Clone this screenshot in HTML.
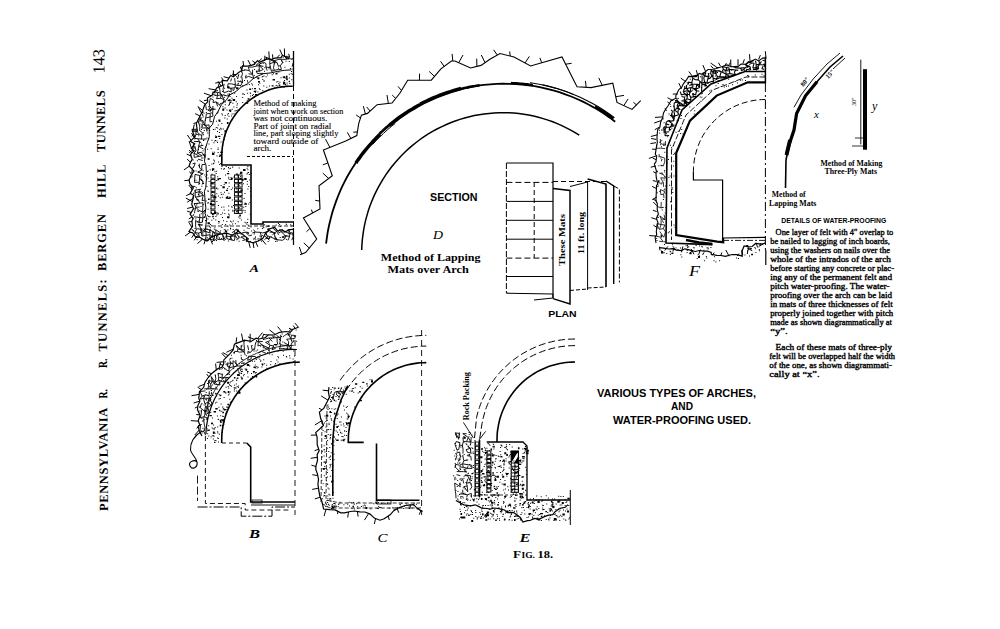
<!DOCTYPE html>
<html><head><meta charset="utf-8"><style>
html,body{margin:0;padding:0;background:#fff;}
svg{display:block;}
</style></head><body>
<svg width="1000" height="629" viewBox="0 0 1000 629">
<rect width="1000" height="629" fill="#fff"/>
<text x="108.1" y="511.0" font-family="Liberation Serif" font-size="12.5" font-weight="bold" font-style="normal" text-anchor="start" textLength="103.4" lengthAdjust="spacing" transform="rotate(-90.45 108.1 511.0)" >PENNSYLVANIA</text>
<text x="107.2" y="398.5" font-family="Liberation Serif" font-size="12.5" font-weight="bold" font-style="normal" text-anchor="start" textLength="9.5" lengthAdjust="spacingAndGlyphs" transform="rotate(-90.45 107.2 398.5)" >R.</text>
<text x="107.0" y="368.0" font-family="Liberation Serif" font-size="12.5" font-weight="bold" font-style="normal" text-anchor="start" textLength="9.4" lengthAdjust="spacingAndGlyphs" transform="rotate(-90.45 107.0 368.0)" >R.</text>
<text x="106.9" y="351.5" font-family="Liberation Serif" font-size="12.5" font-weight="bold" font-style="normal" text-anchor="start" textLength="72.2" lengthAdjust="spacing" transform="rotate(-90.45 106.9 351.5)" >TUNNELS:</text>
<text x="106.2" y="271.0" font-family="Liberation Serif" font-size="12.5" font-weight="bold" font-style="normal" text-anchor="start" textLength="57" lengthAdjust="spacing" transform="rotate(-90.45 106.2 271.0)" >BERGEN</text>
<text x="105.7" y="198.0" font-family="Liberation Serif" font-size="12.5" font-weight="bold" font-style="normal" text-anchor="start" textLength="33.4" lengthAdjust="spacing" transform="rotate(-90.45 105.7 198.0)" >HILL</text>
<text x="105.3" y="152.0" font-family="Liberation Serif" font-size="12.5" font-weight="bold" font-style="normal" text-anchor="start" textLength="61.6" lengthAdjust="spacing" transform="rotate(-90.45 105.3 152.0)" >TUNNELS</text>
<text x="104.6" y="73.5" font-family="Liberation Serif" font-size="17" font-weight="normal" font-style="normal" text-anchor="start" textLength="24.5" lengthAdjust="spacingAndGlyphs" transform="rotate(-90.45 104.6 73.5)" >143</text>
<path d="M221.8 151.4h1v1h-1zM275.7 84.9h1v1h-1zM213.5 198.7h1v1h-1zM209.2 226.2h1v1h-1zM222.3 108.4h2v2h-2zM244.5 203.9h1v1h-1zM230.1 228.6h1v1h-1zM233.4 106.4h1v1h-1zM211.7 191.8h1v1h-1zM212.0 170.1h1v1h-1zM234.9 223.3h1v1h-1zM222.4 186.3h2.4v2h-2.4zM215.8 136.8h1v1h-1zM229.4 224.4h1v1h-1zM232.4 210.7h1v1h-1zM240.4 205.8h1v1h-1zM214.4 227.3h1v1h-1zM228.4 192.8h1v1h-1zM213.5 162.6h1v1h-1zM245.6 222.5h1v1h-1zM227.6 100.1h1v1h-1zM231.5 97.8h1v1h-1zM221.1 128.6h1v1h-1zM217.1 127.5h1v1h-1zM207.1 214.7h1v1h-1zM290.7 73.3h1v1h-1zM248.2 186.1h1v1h-1zM259.4 82.7h1v1h-1zM244.5 203.3h2.4v1.4h-2.4zM207.5 222.2h2.4v2h-2.4zM232.1 177.8h1v1h-1zM220.5 214.0h1v1h-1zM244.6 211.8h1v1h-1zM243.6 198.1h1v1h-1zM217.6 148.9h1v1h-1zM220.5 141.6h1v1h-1zM224.4 135.8h1v1h-1zM279.8 226.1h1v1h-1zM282.7 76.5h1v1h-1zM275.5 73.0h2v1.4h-2zM207.7 201.9h1v1h-1zM247.6 98.3h2v1.4h-2zM221.4 113.2h1v1h-1zM240.3 195.9h1v1h-1zM213.2 218.3h1v1h-1zM217.0 142.1h1v1h-1zM246.5 173.5h1v1h-1zM224.4 213.1h1v1h-1zM208.0 198.6h1.6v1.4h-1.6zM244.5 209.9h1v1h-1zM220.0 151.7h1v1h-1zM228.2 176.7h1v1h-1zM209.4 215.9h1v1h-1zM215.1 136.7h2v1.4h-2zM267.6 225.4h1.6v1.4h-1.6zM207.6 170.6h1v1h-1zM224.8 104.3h1v1h-1zM257.4 91.6h1v1h-1zM221.5 165.9h1v1h-1zM222.7 193.7h1v1h-1zM214.1 211.3h1.6v2h-1.6zM214.0 160.6h1v1h-1zM235.9 228.8h1v1h-1zM207.7 191.1h1v1h-1zM230.6 177.0h1v1h-1zM217.4 178.2h1.6v2h-1.6zM236.9 103.3h1v1h-1zM261.6 76.4h1v1h-1zM238.3 216.6h1v1h-1zM213.9 196.0h1v1h-1zM213.0 203.8h1v1h-1zM215.8 188.1h1v1h-1zM221.9 196.8h1v1h-1zM214.4 211.2h1v1h-1zM285.4 77.8h1v1h-1zM224.6 134.5h1v1h-1zM212.3 151.8h1v1h-1zM250.2 191.0h1v1h-1zM214.3 140.6h1v1h-1zM271.7 74.2h1v1h-1zM241.7 178.8h2v2h-2zM209.9 227.2h1v1h-1zM212.0 214.0h1v1h-1zM247.8 224.7h1v1h-1zM258.9 88.2h1v1h-1zM245.8 102.3h2.4v1.4h-2.4zM216.5 140.4h1v1h-1zM215.6 211.9h1v1h-1zM229.5 178.9h1v1h-1zM227.5 225.8h1v1h-1zM283.3 76.2h2v2h-2zM243.1 169.1h2.4v2h-2.4zM235.9 188.4h1v1h-1zM263.3 227.3h1v1h-1zM283.0 82.4h2.4v2h-2.4zM278.4 71.4h1v1h-1zM225.1 223.9h1v1h-1zM251.2 83.3h1v1h-1zM207.6 177.6h1v1h-1zM219.2 164.0h1v1h-1zM213.4 142.2h1v1h-1zM263.3 85.4h1v1h-1zM242.9 183.2h1v1h-1zM217.6 147.6h1v1h-1zM211.9 168.3h2.4v2h-2.4zM242.7 93.2h1v1h-1zM291.3 79.3h1v1h-1zM215.7 173.0h1v1h-1zM286.0 75.7h1.6v2h-1.6zM224.7 107.4h1v1h-1zM221.9 114.6h1v1h-1zM219.4 121.1h1v1h-1zM261.9 227.9h1v1h-1zM252.8 93.9h1v1h-1zM205.6 200.6h1v1h-1zM278.3 83.0h1v1h-1zM268.9 85.4h1v1h-1zM247.0 221.9h1v1h-1zM286.6 84.4h1v1h-1zM252.0 95.0h1v1h-1zM246.8 183.7h1v1h-1zM266.3 86.7h1v1h-1zM246.4 223.7h1v1h-1zM238.9 182.9h1v1h-1zM206.4 227.7h1v1h-1zM223.8 167.9h1v1h-1zM240.2 176.0h1v1h-1zM223.2 186.3h1v1h-1zM278.7 84.6h1.6v1.4h-1.6zM221.4 133.9h1v1h-1zM258.0 84.2h1v1h-1zM250.8 172.9h1v1h-1zM267.4 226.1h1v1h-1zM235.8 173.4h2v1.4h-2zM250.6 195.4h1v1h-1zM249.8 92.5h1v1h-1zM223.0 220.2h1v1h-1zM246.5 89.6h1v1h-1zM217.5 213.7h1v1h-1zM228.9 214.6h1v1h-1zM216.4 201.1h1v1h-1zM221.4 226.9h1v1h-1zM276.6 72.5h1v1h-1zM246.9 92.7h1v1h-1zM262.3 75.9h1v1h-1zM218.3 222.5h1v1h-1zM248.5 228.1h1v1h-1zM210.3 185.3h1v1h-1zM258.0 81.0h2v1.4h-2zM210.1 180.5h1v1h-1zM226.7 118.6h1v1h-1zM286.1 223.7h1v1h-1zM285.5 85.6h1v1h-1zM216.5 155.4h1v1h-1zM211.0 212.3h1v1h-1zM257.3 77.2h2v2h-2zM234.2 92.7h1v1h-1zM223.4 206.6h1v1h-1zM206.9 171.0h1v1h-1zM226.4 221.0h1v1h-1zM277.9 222.9h1v1h-1zM242.7 209.7h1v1h-1zM242.2 96.9h1v1h-1zM216.2 179.9h1v1h-1zM231.6 113.4h1v1h-1zM251.9 88.3h1v1h-1zM217.2 176.2h1v1h-1zM212.2 215.8h1.6v1.4h-1.6zM227.7 197.7h2v1.4h-2zM227.3 114.3h1v1h-1zM222.0 212.6h1v1h-1zM208.5 143.4h1v1h-1zM239.5 217.7h1v1h-1zM221.4 158.4h1v1h-1zM237.3 174.6h1v1h-1zM220.9 193.9h1v1h-1zM244.5 192.9h1v1h-1zM208.6 164.9h1v1h-1zM207.1 148.8h1v1h-1zM276.2 81.5h1v1h-1zM218.4 119.4h2v2h-2zM239.0 109.4h1v1h-1zM246.8 181.1h1v1h-1zM217.4 188.4h1v1h-1zM292.7 70.4h1v1h-1zM252.0 84.5h1v1h-1zM247.3 218.7h1v1h-1zM232.8 220.5h1v1h-1zM257.3 228.2h1v1h-1zM221.2 206.7h1v1h-1zM224.4 130.2h2v2h-2zM227.3 196.1h1v1h-1zM230.0 220.8h1v1h-1zM245.3 205.9h1v1h-1zM228.2 209.7h1v1h-1zM232.2 166.6h1v1h-1zM217.6 152.1h1v1h-1zM214.6 128.8h1v1h-1zM217.9 204.9h1v1h-1zM263.9 80.6h1v1h-1zM216.3 193.2h1v1h-1zM228.2 205.6h1v1h-1zM216.2 214.6h1v1h-1zM231.8 199.6h1v1h-1zM235.7 212.7h2.4v1.4h-2.4zM239.3 214.6h1.6v2h-1.6zM222.5 106.3h1v1h-1zM279.1 224.0h1v1h-1zM236.2 210.9h1v1h-1zM230.8 189.1h1v1h-1zM226.5 109.6h1v1h-1zM221.2 151.6h1.6v1.4h-1.6zM233.0 205.0h1v1h-1zM265.6 76.3h1v1h-1zM227.9 170.9h1v1h-1zM255.4 90.5h1v1h-1zM262.3 89.9h1v1h-1zM223.3 168.7h1v1h-1zM263.2 224.8h1v1h-1zM229.5 110.0h1v1h-1zM239.7 178.0h1.6v1.4h-1.6zM211.5 139.7h1v1h-1zM218.1 161.6h1v1h-1zM224.7 114.9h1v1h-1zM244.6 202.6h1v1h-1zM243.8 94.1h1v1h-1zM255.0 94.0h2v1.4h-2zM217.9 195.4h1v1h-1zM227.8 99.9h1v1h-1zM227.6 198.0h1v1h-1zM288.8 77.4h1v1h-1zM207.6 158.3h2v1.4h-2zM284.0 80.0h1v1h-1zM227.2 217.0h1v1h-1zM248.2 203.5h1v1h-1zM234.1 185.1h1v1h-1zM230.0 227.8h1v1h-1zM211.4 173.8h1v1h-1zM228.9 103.9h1v1h-1zM232.4 102.7h1v1h-1zM219.3 129.2h1v1h-1zM272.9 73.2h1v1h-1zM211.4 163.6h1v1h-1zM277.4 81.0h1v1h-1zM206.4 186.1h1v1h-1zM286.1 78.7h1v1h-1zM216.2 187.4h1v1h-1zM209.3 216.3h1v1h-1zM234.5 110.6h1v1h-1zM222.2 144.5h1v1h-1zM210.1 223.9h1v1h-1zM222.0 216.9h1v1h-1zM228.6 99.3h2v2h-2zM215.0 140.0h1v1h-1zM283.1 81.4h1v1h-1zM210.5 208.3h1v1h-1zM211.3 219.7h1v1h-1zM221.3 123.0h1v1h-1zM248.8 84.0h1v1h-1zM290.2 224.3h1v1h-1zM224.0 191.8h1v1h-1zM230.1 111.1h1v1h-1zM223.7 184.1h1v1h-1zM238.7 167.4h1v1h-1zM213.9 151.7h1v1h-1zM249.1 88.6h2v1.4h-2zM244.5 221.8h1v1h-1zM217.2 212.4h1v1h-1zM214.3 212.5h2v1.4h-2zM238.6 184.9h1v1h-1zM235.9 212.8h1v1h-1zM207.6 170.6h1v1h-1zM233.5 176.6h1v1h-1zM291.4 225.3h1v1h-1zM240.5 201.7h1v1h-1zM267.5 228.6h2v2h-2zM249.5 202.0h1v1h-1zM214.0 196.3h2.4v2h-2.4zM264.2 224.2h1v1h-1zM219.3 128.9h1v1h-1zM215.1 135.6h1v1h-1zM213.8 228.8h1v1h-1zM246.8 227.4h1v1h-1zM217.7 212.9h1v1h-1zM250.1 92.8h1v1h-1zM220.9 168.2h1v1h-1zM268.6 88.8h1v1h-1zM225.8 196.7h2.4v2h-2.4zM219.4 154.4h1.6v2h-1.6zM232.1 223.6h1v1h-1zM280.5 77.2h1v1h-1zM215.4 216.1h1v1h-1zM248.8 174.0h1v1h-1zM249.8 213.7h1v1h-1zM232.0 187.5h1v1h-1zM209.9 202.9h2.4v2h-2.4zM291.0 71.0h1v1h-1zM232.2 166.8h1v1h-1zM227.8 112.9h1v1h-1zM243.2 206.7h1v1h-1zM230.8 178.1h1.6v2h-1.6zM262.3 78.9h1v1h-1zM209.7 169.3h1v1h-1zM207.5 218.6h1v1h-1zM265.6 226.4h1v1h-1zM212.1 194.2h1v1h-1zM215.9 120.8h1v1h-1zM254.0 87.9h2v1.4h-2zM208.3 138.6h1v1h-1zM249.2 179.6h1v1h-1zM274.4 86.7h1v1h-1zM220.2 163.1h1v1h-1zM236.1 96.0h1v1h-1zM228.6 186.1h1v1h-1zM226.0 189.7h2v1.4h-2zM208.6 181.0h1v1h-1zM218.9 221.2h1v1h-1zM276.8 85.5h1v1h-1zM224.8 101.6h1v1h-1zM259.5 89.1h1v1h-1zM237.7 221.2h1v1h-1zM231.2 206.3h1v1h-1zM228.9 109.6h2.4v2h-2.4zM219.0 131.9h1v1h-1zM253.7 90.7h2.4v1.4h-2.4zM236.4 106.9h1v1h-1zM215.3 219.5h1v1h-1zM211.9 213.4h2.4v1.4h-2.4zM222.8 128.4h1v1h-1zM218.0 220.9h1v1h-1zM218.0 135.7h2.4v1.4h-2.4zM244.2 178.0h2.4v2h-2.4zM283.3 86.1h1.6v1.4h-1.6zM266.9 74.6h1v1h-1zM285.0 84.1h1v1h-1zM228.2 104.8h1v1h-1zM218.9 156.0h1v1h-1zM219.2 137.9h1v1h-1zM220.5 192.3h1v1h-1zM231.9 117.8h1v1h-1zM242.2 93.6h1v1h-1zM212.9 129.0h1v1h-1zM224.6 132.8h1v1h-1zM236.5 104.8h1v1h-1zM236.6 173.6h1v1h-1zM242.2 101.9h1v1h-1zM250.6 187.5h1v1h-1zM213.7 178.8h1v1h-1zM254.8 91.9h1v1h-1zM279.4 229.0h1v1h-1zM289.0 80.8h1v1h-1zM286.2 78.2h1.6v2h-1.6zM223.7 209.6h1v1h-1zM288.6 81.3h1v1h-1zM232.7 99.0h2.4v2h-2.4zM289.3 82.9h1v1h-1zM250.1 95.4h1v1h-1zM275.7 224.6h1v1h-1zM246.7 100.3h1v1h-1zM292.0 73.8h1v1h-1zM228.6 168.3h1v1h-1zM247.4 169.2h1v1h-1zM237.1 210.5h1v1h-1zM250.5 226.5h1v1h-1zM220.6 185.0h1v1h-1zM257.2 95.0h1v1h-1zM246.4 84.2h1v1h-1zM248.1 171.9h1v1h-1zM213.0 197.2h1v1h-1zM228.0 213.5h1v1h-1zM235.8 101.2h1v1h-1zM227.1 216.2h2.4v2h-2.4zM247.2 172.4h1v1h-1zM240.9 219.4h1v1h-1zM228.5 115.7h1v1h-1zM228.0 167.0h1v1h-1zM228.6 182.6h1v1h-1zM240.4 189.5h2v2h-2zM233.5 113.3h1v1h-1zM231.2 221.4h1v1h-1zM235.0 114.3h1v1h-1zM247.4 188.4h1v1h-1zM226.9 122.0h1.6v2h-1.6zM231.7 206.7h1v1h-1zM286.6 82.5h1v1h-1zM221.8 224.1h1v1h-1zM229.2 196.8h1.6v2h-1.6zM210.9 225.2h1v1h-1zM222.7 110.1h1v1h-1zM246.6 167.8h1v1h-1zM213.2 159.6h1v1h-1zM239.4 188.1h1v1h-1zM227.2 187.9h1v1h-1zM207.4 202.8h1v1h-1zM229.2 102.9h1v1h-1zM223.6 139.1h1v1h-1zM207.6 208.7h1v1h-1zM213.4 186.8h1v1h-1zM283.9 81.8h1v1h-1zM225.7 166.0h1v1h-1zM224.3 117.4h1v1h-1zM213.0 163.3h1v1h-1zM239.1 207.3h1v1h-1zM263.2 80.5h1v1h-1zM228.2 178.3h1v1h-1zM207.4 190.3h1v1h-1zM285.7 223.8h1v1h-1zM253.8 96.7h1v1h-1zM224.6 182.1h2.4v1.4h-2.4zM241.3 195.3h1v1h-1zM234.0 199.0h1v1h-1zM207.9 215.9h1v1h-1zM247.4 166.1h1v1h-1zM210.7 148.3h1v1h-1zM288.8 73.8h1v1h-1zM239.7 196.1h1v1h-1zM219.0 177.9h2v1.4h-2zM237.4 109.5h1v1h-1zM230.8 100.3h1v1h-1zM279.4 81.7h1v1h-1zM293.1 81.9h1v1h-1zM240.0 171.7h2.4v2h-2.4zM210.4 182.8h2.4v1.4h-2.4zM225.0 174.4h1v1h-1zM211.9 191.1h1v1h-1zM214.5 171.2h1v1h-1zM272.6 79.0h2.4v1.4h-2.4zM262.6 226.5h1v1h-1zM206.1 178.7h1v1h-1zM232.4 209.7h1v1h-1zM239.8 173.0h1v1h-1zM263.5 75.5h1v1h-1zM229.4 101.7h2v1.4h-2zM216.1 170.7h1v1h-1zM215.8 127.1h1v1h-1zM206.5 174.6h1v1h-1zM217.0 130.9h1v1h-1zM219.9 127.8h1v1h-1zM230.0 167.8h1v1h-1zM226.9 172.9h2.4v1.4h-2.4zM217.8 124.4h1v1h-1zM212.0 153.0h2.4v2h-2.4zM271.6 85.2h2v1.4h-2zM292.9 74.4h1v1h-1zM231.1 115.4h1v1h-1zM219.7 197.2h1v1h-1zM231.8 108.8h1v1h-1zM214.3 186.6h1v1h-1zM235.7 110.0h1v1h-1zM216.2 136.0h1v1h-1z" fill="#000"/>
<path d="M206.4 137.4h1v1h-1zM284.4 66.8h1v1h-1zM199.1 183.1h1v1h-1zM200.8 238.6h1v1h-1zM203.0 134.2h1v1h-1zM194.6 190.3h1v1h-1zM194.4 208.2h1v1h-1zM262.8 62.7h1v1h-1zM196.8 140.9h1v1h-1zM285.0 57.2h1v1h-1zM195.6 170.5h1v1h-1zM208.1 109.8h1v1h-1zM220.0 230.6h1v1h-1zM213.4 108.7h1v1h-1zM205.0 220.0h1v1h-1zM201.6 121.3h1v1h-1zM204.3 154.8h1v1h-1zM225.1 230.6h2v2h-2zM220.2 93.2h1v1h-1zM204.4 174.5h1v1h-1zM217.6 235.6h1v1h-1zM196.9 210.5h1v1h-1zM281.7 60.5h1v1h-1zM221.9 91.1h1v1h-1zM253.7 74.9h1v1h-1zM203.1 182.7h1v1h-1zM290.5 233.7h1v1h-1zM288.8 61.1h1v1h-1zM223.9 100.7h1v1h-1zM253.7 232.3h1v1h-1zM246.9 232.2h1v1h-1zM202.0 192.3h1v1h-1zM227.9 240.5h1v1h-1zM209.2 129.9h1v1h-1zM227.4 229.5h1v1h-1zM257.9 69.6h1v1h-1zM274.5 239.1h1v1h-1zM215.4 92.2h1v1h-1zM240.6 233.4h1v1h-1zM231.5 234.9h1v1h-1zM203.5 112.8h1v1h-1zM204.0 209.9h1v1h-1zM202.6 170.2h1v1h-1zM193.7 147.4h1v1h-1zM194.0 203.3h1v1h-1zM255.3 239.2h1v1h-1zM195.9 236.5h1v1h-1zM279.7 236.9h1v1h-1zM236.0 87.3h2.4v2h-2.4zM223.8 229.3h1v1h-1zM289.9 68.1h1v1h-1zM261.1 240.7h1v1h-1zM212.4 96.5h1v1h-1zM201.1 144.6h1v1h-1zM237.4 84.5h1v1h-1zM233.7 88.5h1v1h-1zM225.1 238.8h1v1h-1zM231.6 93.0h1v1h-1zM200.6 229.6h1v1h-1zM206.7 236.9h1v1h-1zM208.2 106.2h1v1h-1zM197.9 223.8h2.4v1.4h-2.4zM200.6 176.4h1v1h-1zM291.7 57.9h1v1h-1zM192.5 196.5h1v1h-1zM201.4 185.7h1v1h-1zM202.6 116.6h1v1h-1zM224.9 229.5h1v1h-1zM203.8 130.0h1v1h-1zM198.4 220.7h1v1h-1zM269.1 236.9h1v1h-1zM199.6 116.8h1v1h-1zM199.3 118.5h2v2h-2zM215.7 92.0h1v1h-1zM192.5 214.9h1v1h-1zM196.8 203.2h1v1h-1zM264.0 59.9h1v1h-1zM203.5 212.4h1v1h-1zM201.8 192.6h1v1h-1zM201.8 220.3h1v1h-1zM240.3 80.4h1v1h-1zM193.8 147.2h1v1h-1zM224.1 87.7h1v1h-1zM209.5 230.5h1v1h-1zM253.8 233.5h1v1h-1zM198.3 171.4h1v1h-1zM203.6 148.5h1v1h-1zM285.5 60.8h1v1h-1zM197.6 199.3h1v1h-1zM220.8 93.9h1v1h-1zM254.1 64.0h1v1h-1zM285.0 236.2h1v1h-1zM205.3 146.6h1v1h-1zM223.7 96.9h1v1h-1zM281.8 236.8h1v1h-1zM268.6 68.2h1v1h-1zM216.8 112.8h1v1h-1zM192.6 217.5h1v1h-1zM238.6 240.8h1v1h-1zM258.5 238.2h1v1h-1zM247.1 81.5h1v1h-1zM192.8 230.1h1v1h-1zM205.8 111.9h1v1h-1zM237.2 78.1h1v1h-1zM194.8 150.7h1v1h-1zM264.0 70.7h1v1h-1zM274.1 63.2h1v1h-1zM196.1 204.6h1v1h-1zM244.0 80.0h1v1h-1zM229.5 95.9h1v1h-1zM196.6 153.2h1v1h-1zM199.5 123.6h1v1h-1zM244.3 69.5h1v1h-1zM196.8 199.6h1v1h-1zM195.4 179.8h1v1h-1zM196.8 221.5h1v1h-1zM245.2 75.9h1v1h-1zM260.1 62.9h1v1h-1zM240.1 85.3h1v1h-1zM262.4 73.1h1v1h-1zM203.0 139.9h1v1h-1zM210.0 110.1h1v1h-1zM245.6 74.7h1v1h-1zM271.7 69.4h1v1h-1zM228.8 93.2h1v1h-1zM202.4 234.8h1v1h-1zM240.4 76.5h1v1h-1zM212.7 239.4h1v1h-1zM236.1 76.3h1v1h-1zM287.9 231.5h1v1h-1zM194.5 228.1h1v1h-1zM202.7 111.6h1v1h-1zM260.4 65.2h1v1h-1zM204.1 239.3h1v1h-1zM203.7 155.0h1v1h-1zM203.0 183.1h1v1h-1zM227.5 93.7h1v1h-1zM274.5 233.1h1v1h-1zM286.0 58.1h1v1h-1zM275.1 241.0h1v1h-1zM198.3 135.2h1v1h-1zM258.1 240.3h1v1h-1zM200.1 230.5h1v1h-1zM231.6 88.8h1v1h-1zM205.0 227.8h1v1h-1zM254.1 69.0h1v1h-1zM274.1 232.3h1v1h-1zM291.6 68.5h1v1h-1zM200.8 117.4h1v1h-1zM202.0 112.0h1v1h-1zM210.0 106.7h1v1h-1zM217.7 111.4h1v1h-1zM217.3 102.2h1v1h-1zM261.8 235.1h1v1h-1zM210.8 236.0h1v1h-1zM202.6 150.3h1v1h-1zM242.2 85.3h1v1h-1zM192.9 166.8h1v1h-1zM237.5 83.6h1v1h-1zM207.0 129.4h1v1h-1zM251.1 230.4h1v1h-1zM203.5 228.3h1v1h-1zM197.9 193.9h1v1h-1zM201.2 228.2h1v1h-1zM193.0 192.8h1v1h-1zM207.2 132.4h1v1h-1zM287.2 56.2h1.6v1.4h-1.6zM247.8 233.0h1v1h-1zM202.7 204.0h1v1h-1zM277.9 231.5h1v1h-1zM200.8 213.2h1v1h-1zM193.6 233.0h1v1h-1zM267.6 240.9h1v1h-1zM243.5 229.7h1v1h-1zM199.4 225.5h1v1h-1zM201.4 224.8h1v1h-1zM286.2 235.6h1v1h-1zM206.6 109.2h1v1h-1zM286.1 239.0h1v1h-1zM220.9 238.0h1v1h-1zM230.5 87.9h1v1h-1zM236.3 239.2h1v1h-1zM192.7 159.4h1v1h-1zM195.3 218.4h1v1h-1zM232.7 229.0h1v1h-1zM259.5 235.4h1v1h-1zM241.3 82.1h1v1h-1zM196.6 239.3h1v1h-1zM229.1 93.9h1v1h-1zM218.7 87.6h1v1h-1zM198.2 165.2h1v1h-1zM222.3 94.5h1v1h-1zM278.0 67.8h1v1h-1zM216.0 240.0h1v1h-1zM194.7 190.7h1v1h-1zM202.0 125.6h1v1h-1zM205.5 125.4h1v1h-1zM198.0 210.8h1v1h-1zM198.2 121.9h1v1h-1zM247.0 80.2h1v1h-1zM201.0 128.9h1v1h-1zM233.4 88.9h1v1h-1zM201.8 121.8h1v1h-1zM198.0 148.9h1v1h-1zM223.7 231.7h1v1h-1zM204.7 119.7h1v1h-1zM202.8 132.3h1v1h-1zM193.1 214.3h1v1h-1zM210.6 109.8h1v1h-1zM202.7 153.9h1v1h-1zM237.9 82.8h1v1h-1zM206.4 240.7h1v1h-1zM195.8 187.2h1v1h-1zM214.7 94.9h1v1h-1zM200.3 172.7h1v1h-1zM255.9 76.5h1v1h-1zM224.4 95.3h1v1h-1zM209.9 229.3h1v1h-1zM288.8 232.7h1v1h-1zM201.0 233.2h1v1h-1zM199.3 118.3h1v1h-1zM227.5 86.2h2v2h-2zM245.4 77.5h1v1h-1zM197.2 199.5h1v1h-1zM204.0 216.2h1v1h-1zM282.6 56.7h1v1h-1zM276.3 239.3h1v1h-1zM194.3 138.5h1v1h-1zM270.7 236.3h1v1h-1zM196.9 160.2h1v1h-1zM264.3 67.3h1v1h-1zM222.1 95.6h1v1h-1zM257.4 238.5h1v1h-1zM212.0 241.0h1v1h-1zM234.9 86.5h1v1h-1zM232.7 90.0h1v1h-1zM269.5 66.3h1v1h-1zM202.4 157.4h1v1h-1zM202.4 233.5h1v1h-1zM193.5 145.8h1v1h-1zM276.7 240.8h1v1h-1zM256.2 71.1h1v1h-1zM200.5 206.0h1v1h-1zM192.6 197.3h1v1h-1zM194.0 234.4h1v1h-1zM205.2 176.2h1v1h-1zM198.9 190.3h1v1h-1zM201.2 157.6h1v1h-1zM241.2 71.3h1v1h-1zM261.0 236.2h1v1h-1zM204.0 229.0h1v1h-1zM234.0 236.2h1v1h-1zM249.9 241.0h1v1h-1zM225.1 236.5h1v1h-1zM237.8 74.7h1v1h-1zM203.4 139.4h1v1h-1zM239.5 237.2h1v1h-1zM282.3 61.9h1v1h-1zM242.3 232.3h1v1h-1z" fill="#000"/>
<path d="M192.6 163.7L195.2 163.0M192.0 168.6L193.9 166.9M192.2 175.5L191.8 177.5M192.4 186.2L195.5 186.6M191.6 228.8L194.9 232.6M196.0 130.6L195.9 134.4M196.0 130.6L199.5 134.3M195.9 134.4L199.5 134.3M195.9 134.4L194.6 138.4M194.6 138.4L197.6 138.7M194.0 141.4L199.7 141.7M194.8 145.8L196.0 150.7M196.0 150.7L194.0 153.2M194.0 153.2L194.2 157.4M194.0 153.2L199.3 156.3M194.2 157.4L199.3 156.3M195.2 163.0L193.9 166.9M195.0 174.4L199.7 175.5M195.0 174.4L194.7 179.0M194.7 179.0L194.4 182.4M194.4 182.4L199.2 182.3M195.1 190.1L197.8 189.7M195.1 190.1L195.0 192.9M195.0 192.9L198.9 191.7M195.0 192.9L195.4 197.1M195.4 197.1L199.0 196.6M195.4 197.1L198.7 200.6M196.1 199.0L198.7 200.6M194.2 203.6L199.6 203.2M194.2 203.6L195.8 207.2M195.8 207.2L199.5 207.1M195.8 207.2L194.6 211.8M195.8 207.2L198.9 210.5M194.6 211.8L194.6 213.3M194.0 216.8L199.8 217.5M195.6 220.6L199.1 222.5M195.6 220.6L195.6 226.0M195.6 226.0L196.3 229.5M196.3 229.5L197.7 228.7M196.3 229.5L194.9 232.6M194.9 232.6L198.5 233.1M194.9 232.6L199.4 237.1M195.9 236.4L199.4 237.1M198.0 121.3L202.8 120.5M198.0 121.3L199.1 124.1M199.1 124.1L199.8 126.8M199.8 126.8L199.6 130.7M199.6 130.7L202.4 132.5M199.5 134.3L201.8 135.6M197.6 138.7L201.3 139.1M197.6 138.7L199.7 141.7M199.7 141.7L201.5 143.2M199.7 141.7L198.7 146.2M198.7 146.2L203.4 145.3M198.7 146.2L198.1 149.6M198.7 146.2L203.0 148.8M198.1 149.6L197.5 153.0M197.5 153.0L201.8 152.2M197.5 153.0L202.2 155.8M199.3 156.3L202.2 155.8M198.0 159.2L202.8 160.5M199.2 163.7L199.7 168.1M199.7 168.1L202.0 169.9M197.7 172.1L202.0 169.9M197.7 172.1L203.2 173.7M199.7 175.5L203.2 173.7M199.7 175.5L199.5 178.8M199.5 178.8L201.3 179.0M199.5 178.8L199.2 182.3M199.5 178.8L203.1 181.8M199.2 182.3L198.9 184.9M197.8 189.7L201.1 189.2M198.9 191.7L201.7 191.9M198.9 191.7L199.0 196.6M198.9 191.7L203.3 195.2M199.0 196.6L203.3 195.2M198.7 200.6L199.6 203.2M199.6 203.2L202.9 202.6M198.9 210.5L202.6 211.8M199.7 214.2L199.8 217.5M199.8 217.5L202.9 217.9M199.8 217.5L199.1 222.5M199.1 222.5L202.4 222.3M199.1 224.8L202.6 224.8M199.1 224.8L201.1 229.4M197.7 228.7L201.1 229.4M198.5 233.1L201.9 232.1M198.5 233.1L199.4 237.1M202.3 113.6L203.0 116.3M202.8 120.5L204.9 125.4M202.1 123.7L204.9 125.4M202.1 123.7L201.8 128.1M201.8 128.1L206.1 127.8M202.4 132.5L201.8 135.6M201.8 135.6L201.3 139.1M201.3 139.1L206.6 139.0M201.8 152.2L205.2 157.3M202.1 164.4L205.1 164.6M202.1 164.4L201.7 167.1M201.7 167.1L202.0 169.9M201.3 179.0L203.1 181.8M203.1 181.8L202.1 184.6M203.3 195.2L202.0 200.5M202.0 200.5L204.8 200.2M202.9 202.6L202.9 207.3M202.9 207.3L202.6 211.8M202.6 211.8L205.0 211.0M202.6 211.8L203.0 214.6M203.0 214.6L202.9 217.9M202.9 217.9L205.0 217.3M202.9 217.9L202.4 222.3M201.1 229.4L201.9 232.1M201.1 229.4L205.9 231.5M201.9 232.1L205.9 231.5M201.9 232.1L201.8 236.0M201.8 236.0L206.2 235.3M205.7 105.2L206.4 109.8M206.4 113.8L210.4 113.4M206.4 113.8L205.7 118.0M205.7 118.0L210.0 117.0M205.7 118.0L205.0 121.8M205.0 121.8L204.9 125.4M204.9 125.4L209.1 124.9M204.9 125.4L209.1 128.8M206.1 127.8L209.1 128.8M206.1 127.8L206.9 131.5M204.8 153.9L205.2 157.3M204.9 229.2L209.2 229.7M204.9 229.2L205.9 231.5M205.9 231.5L210.3 233.1M205.9 231.5L206.2 235.3M206.2 235.3L209.8 234.7M206.2 235.3L205.4 239.4M205.4 239.4L210.1 238.8M210.4 98.2L213.5 100.2M210.4 98.2L209.2 103.0M209.2 103.0L209.9 107.3M209.9 107.3L208.7 110.1M209.9 107.3L212.9 109.1M208.7 110.1L212.9 109.1M208.7 110.1L212.6 114.0M210.4 113.4L210.0 117.0M210.0 117.0L213.1 116.1M210.0 117.0L210.0 121.8M210.0 121.8L212.2 121.5M209.1 124.9L209.1 128.8M209.2 229.7L210.3 233.1M209.2 229.7L212.9 231.5M209.8 234.7L212.4 236.5M209.8 234.7L210.1 238.8M210.1 238.8L214.2 240.6M213.1 94.6L217.6 95.6M213.5 100.2L213.0 102.5M213.0 102.5L216.1 101.9M212.9 106.0L212.9 109.1M212.9 109.1L215.7 109.2M212.9 109.1L212.6 114.0M212.6 114.0L213.1 116.1M212.9 231.5L216.0 233.3M212.9 231.5L212.4 236.5M212.9 231.5L217.0 237.0M212.4 236.5L214.2 240.6M214.2 240.6L216.6 238.9M217.5 92.2L220.2 93.1M217.5 92.2L217.6 95.6M217.6 95.6L221.1 94.7M217.6 95.6L216.5 98.7M216.5 98.7L220.6 98.3M216.1 101.9L217.7 106.4M216.1 101.9L219.9 105.4M215.6 229.7L216.0 233.3M215.6 229.7L221.2 233.3M216.0 233.3L221.2 233.3M217.0 237.0L216.6 238.9M216.6 238.9L219.3 239.6M219.6 87.5L220.2 93.1M220.2 93.1L221.1 94.7M221.1 94.7L220.6 98.3M221.1 94.7L224.1 99.6M220.6 98.3L224.1 99.6M219.9 103.9L223.1 102.7M219.9 103.9L219.9 105.4M219.2 237.1L219.3 239.6M219.3 239.6L224.5 239.0M224.2 83.9L223.0 89.3M223.0 89.3L224.0 92.9M224.0 92.9L228.6 91.1M223.2 94.7L227.2 96.0M224.1 99.6L223.1 102.7M223.3 235.4L224.5 239.0M228.1 83.7L231.6 83.9M228.1 83.7L227.5 87.8M227.5 87.8L230.8 88.2M228.6 91.1L231.3 92.0M227.2 96.0L230.2 94.8M226.3 233.1L226.3 236.2M226.3 236.2L230.5 236.6M227.0 238.7L232.1 240.1M231.5 78.4L230.7 81.5M231.6 83.9L235.3 84.7M230.8 88.2L235.1 87.8M230.8 88.2L231.3 92.0M231.9 232.7L234.5 231.2M230.5 236.6L235.4 235.6M230.5 236.6L232.1 240.1M232.1 240.1L234.3 240.6M234.6 78.2L235.2 82.3M235.2 82.3L235.3 84.7M235.3 84.7L237.2 85.4M235.3 84.7L235.1 87.8M235.2 229.8L238.5 229.8M235.2 229.8L234.5 231.2M234.5 231.2L235.4 235.6M235.4 235.6L234.3 240.6M235.4 235.6L237.8 239.3M238.9 74.3L237.6 78.4M237.2 81.0L242.7 82.0M237.2 85.4L240.8 85.4M238.5 229.8L238.7 231.8M239.4 236.6L237.8 239.3M241.1 71.1L245.4 69.8M241.1 71.1L242.5 73.1M242.5 73.1L241.7 76.5M241.7 76.5L242.7 82.0M242.7 82.0L240.8 85.4M242.7 232.9L245.5 232.1M241.0 236.9L244.6 236.7M241.0 236.9L245.6 239.8M242.4 240.5L245.6 239.8M245.4 69.8L249.4 70.8M245.3 77.6L248.7 76.4M245.5 232.1L248.8 232.5M245.5 232.1L249.2 235.8M248.4 67.1L252.2 67.1M248.4 67.1L249.4 70.8M249.4 70.8L252.5 74.3M248.5 73.8L252.5 74.3M248.7 76.4L253.9 78.4M249.2 235.8L252.0 235.0M252.2 67.1L256.5 66.1M252.6 69.7L252.5 74.3M252.5 74.3L253.9 78.4M253.6 229.6L255.3 232.1M252.3 233.0L255.3 232.1M253.0 239.1L255.1 238.7M257.1 63.9L259.7 64.0M257.1 63.9L256.5 66.1M256.5 66.1L259.1 65.6M256.2 71.0L259.4 71.3M256.2 71.0L257.3 73.5M257.3 73.5L259.6 73.4M255.3 232.1L260.1 232.3M255.5 236.4L255.1 238.7M259.7 64.0L263.8 62.2M259.7 64.0L259.1 65.6M259.1 65.6L263.5 66.4M259.1 65.6L259.4 71.3M259.1 65.6L263.3 69.4M259.4 71.3L263.3 69.4M259.6 73.4L263.4 73.4M260.1 232.3L262.5 232.9M260.1 232.3L261.1 235.1M261.1 235.1L260.9 240.7M263.5 60.5L266.6 59.3M263.8 62.2L266.0 63.7M262.5 232.9L268.0 231.7M264.3 239.9L265.9 238.4M266.6 59.3L270.0 59.4M266.0 63.7L265.9 67.1M265.9 67.1L270.5 67.6M265.9 67.1L267.2 70.7M267.4 235.9L269.8 236.6M265.9 238.4L270.1 238.5M270.0 59.4L274.2 60.7M270.0 59.4L269.7 63.8M270.0 59.4L274.5 62.0M269.7 63.8L274.5 62.0M269.7 63.8L270.5 67.6M270.5 67.6L271.4 71.4M271.4 71.4L274.3 70.3M269.6 232.1L273.9 232.4M269.8 236.6L275.5 239.1M274.2 60.7L278.8 59.4M274.2 60.7L274.5 62.0M274.2 60.7L277.2 62.8M274.5 62.0L277.2 62.8M274.5 62.0L273.5 67.8M273.5 67.8L274.3 70.3M274.3 70.3L278.5 69.5M273.9 232.4L274.9 236.4M274.9 236.4L275.5 239.1M274.9 236.4L277.4 239.8M275.5 239.1L277.4 239.8M278.8 59.4L280.8 59.2M277.2 62.8L278.3 66.3M278.3 66.3L280.4 65.6M278.5 69.5L281.4 69.4M277.1 232.2L278.6 234.8M277.4 239.8L282.6 240.3M280.8 59.2L285.2 59.4M280.8 59.2L282.6 62.6M282.6 62.6L280.4 65.6M280.4 65.6L281.4 69.4M281.3 231.9L285.5 232.0M281.3 231.9L285.3 235.6M282.2 236.9L285.3 235.6M282.2 236.9L285.1 238.4M282.6 240.3L285.1 238.4M284.2 56.5L287.6 56.3M285.2 59.4L289.8 58.7M285.5 232.0L289.2 233.4M285.3 235.6L289.6 236.5M285.3 235.6L285.1 238.4M289.8 58.7L292.5 59.4M287.6 229.7L292.2 229.4M289.2 233.4L292.2 232.6M289.2 233.4L289.6 236.5M289.6 236.5L287.9 240.4M293.2 62.8L292.1 66.7M292.2 232.6L293.3 236.6M293.3 236.6L291.7 240.2" fill="none" stroke="#000" stroke-width="0.9"/>
<polyline points="289.5,57.0 288.4,58.5 282.5,55.2 281.0,57.6 274.8,58.1 271.5,59.5 266.2,57.5 266.5,59.1 259.4,62.4 257.7,60.5 253.6,64.6 248.0,66.1 244.1,66.0 240.6,67.3 241.9,70.4 238.6,72.6 233.3,76.9 230.7,75.5 227.2,80.8 222.1,80.5 222.7,85.3 216.6,87.9 214.2,92.7 213.1,92.1 212.3,95.0 207.4,98.0 207.7,101.8 204.6,105.0 202.3,111.5 201.1,113.9 199.3,117.4 198.4,119.3 196.3,123.6 197.4,131.1 192.3,130.8 194.7,136.8 190.2,141.3 194.7,143.8 191.3,148.4 194.1,150.8 190.5,154.3 192.2,159.4 190.2,162.7 189.1,165.9 194.0,171.0 190.4,176.5 190.8,176.7 189.1,179.8 189.9,183.9 193.4,187.8 190.2,193.2 193.7,195.2 192.9,199.3 191.7,204.2 193.5,208.7 191.0,212.8 190.1,214.1 193.1,218.6 191.9,221.0 192.5,226.3 188.9,231.6 189.8,232.2 192.5,232.7 195.9,237.5 199.4,237.0 204.7,240.2 207.9,240.6 210.7,237.5 215.1,235.4 217.6,234.6 223.7,233.7 226.9,233.2 230.3,234.5 232.2,235.1 237.3,232.2 237.6,230.5 241.8,233.8 248.3,238.9 246.7,240.9 254.3,243.2 252.9,242.7 257.6,241.2 262.9,238.2 266.2,232.1 268.5,231.2 268.1,229.4 274.5,227.3 277.7,231.1 282.0,229.6 284.9,231.8 288.7,230.1 294.0,229.0" fill="none" stroke="#000" stroke-width="1.2" />
<path d="M289.5 57.0L288.7 53.8M284.6 56.4L284.4 48.5M282.4 55.4L279.8 49.5M276.9 57.9L279.7 54.7M272.9 58.9L272.5 54.4M269.3 58.7L268.8 51.4M264.7 59.9L264.9 55.7M258.5 61.5L261.8 58.6M255.3 63.0L252.4 60.8M250.7 65.4L248.0 60.1M243.7 66.1L243.0 61.0M241.8 70.5L242.8 65.0M236.0 74.8L232.1 74.2M233.4 76.9L233.4 70.4M229.0 78.1L223.6 76.7M223.5 80.6L221.5 77.5M222.3 81.8L215.2 83.1M221.1 86.0L218.1 81.3M218.0 87.3L219.4 82.7M215.6 89.9L208.6 88.7M213.4 92.2L217.8 90.3M211.1 95.7L204.0 93.2M207.6 100.1L203.9 100.6M205.4 104.2L199.4 100.2M202.6 110.6L199.2 107.6M201.5 113.1L197.9 106.2M200.0 116.0L195.1 113.6M196.7 122.6L193.4 123.5M197.1 129.2L191.7 129.4M192.9 130.8L194.3 124.4M193.5 133.7L191.8 136.5M194.1 137.4L191.5 133.1M191.1 140.4L187.4 135.0M193.9 143.3L192.5 150.3M191.5 148.3L189.1 141.2M193.1 149.9L189.1 152.7M191.8 153.0L189.2 150.1M191.1 156.1L186.7 154.0M190.4 162.4L187.2 159.0M189.3 166.2L183.9 169.9M192.3 169.2L191.8 173.2M191.7 174.6L189.5 171.6M189.2 180.2L184.4 180.6M192.1 186.2L191.2 189.8M192.3 189.6L188.8 185.0M190.8 193.6L186.2 195.6M193.1 198.3L187.2 202.2M192.3 201.5L185.9 198.1M192.8 207.0L187.2 208.5M191.2 212.5L187.1 211.1M192.0 216.9L188.8 218.9M192.0 221.5L188.1 222.1M191.8 227.3L189.3 223.1M190.3 232.3L185.1 235.9M193.9 234.6L191.7 237.7M196.2 237.5L194.1 240.3M202.7 239.0L197.4 243.6M205.3 240.3L203.9 244.2M210.1 238.1L212.5 244.4M214.6 235.6L214.0 239.9M217.7 234.5L216.3 237.7M222.2 233.9L224.2 241.0M226.6 233.2L226.8 238.8M231.2 234.8L229.9 240.1M236.0 232.9L239.1 237.2M240.7 233.0L236.4 233.6M246.4 237.5L246.8 242.2M248.7 241.5L250.2 247.8M253.1 242.7L253.9 248.0M255.7 241.8L257.8 246.8M261.5 239.0L265.9 244.5M264.3 235.7L269.5 240.2M265.9 232.8L267.8 237.8M268.2 229.6L273.3 232.5M272.7 227.8L275.7 230.9M277.4 230.7L272.5 234.7M282.7 230.2L278.9 233.1M288.6 230.1L290.6 233.7" fill="none" stroke="#000" stroke-width="1.0"/>
<polyline points="291.2,69.9 284.6,70.3 277.8,71.3 270.9,72.9 263.7,73.6 258.3,75.8 253.0,78.8 247.4,83.9 240.4,87.3 236.6,91.1 229.6,95.0 226.6,99.7 221.3,104.9 217.8,111.8 214.5,116.7 212.6,124.2 209.2,128.2 209.3,136.7 207.3,142.5 205.4,148.3 205.0,155.8 204.5,161.6 206.0,165.2 206.3,171.5 206.5,176.7 206.2,181.9 205.8,187.2 204.4,191.6 204.9,197.4 205.2,203.0 205.9,207.9 205.1,213.4 206.6,219.2 205.9,224.5 205.5,229.0" fill="none" stroke="#000" stroke-width="1" />
<polyline points="292.7,86.2 289.0,86.2 285.3,86.5 281.7,86.9 278.0,87.5 274.4,88.3 270.9,89.3 267.4,90.5 264.0,91.9 260.6,93.4 257.4,95.1 254.2,97.0 251.1,99.1 248.2,101.3 245.3,103.7 242.6,106.2 240.1,108.8 237.7,111.6 235.4,114.5 233.3,117.6 231.3,120.7 229.6,123.9 228.0,127.3 226.5,130.7 225.3,134.1 224.2,137.7 223.4,141.2 222.7,144.9 222.2,148.5 221.9,152.2 221.8,155.9 221.8,165.0 251.0,165.0 251.0,224.0 263.0,224.0 263.0,222.0 294.0,222.0" fill="none" stroke="#000" stroke-width="1.6" />
<polyline points="206.0,226.0 294.0,226.0" fill="none" stroke="#000" stroke-width="0.8" stroke-dasharray="4,2" />
<rect x="211" y="175.0" width="4" height="3.2" fill="none" stroke="#000" stroke-width="0.9"/>
<rect x="234.5" y="175.0" width="3.6" height="3.2" fill="none" stroke="#000" stroke-width="0.9"/>
<rect x="238.5" y="175.0" width="3.6" height="3.2" fill="none" stroke="#000" stroke-width="0.9"/>
<rect x="211" y="179.4" width="4" height="3.2" fill="none" stroke="#000" stroke-width="0.9"/>
<rect x="234.5" y="179.4" width="3.6" height="3.2" fill="none" stroke="#000" stroke-width="0.9"/>
<rect x="238.5" y="179.4" width="3.6" height="3.2" fill="none" stroke="#000" stroke-width="0.9"/>
<rect x="211" y="183.8" width="4" height="3.2" fill="none" stroke="#000" stroke-width="0.9"/>
<rect x="234.5" y="183.8" width="3.6" height="3.2" fill="none" stroke="#000" stroke-width="0.9"/>
<rect x="238.5" y="183.8" width="3.6" height="3.2" fill="none" stroke="#000" stroke-width="0.9"/>
<rect x="211" y="188.2" width="4" height="3.2" fill="none" stroke="#000" stroke-width="0.9"/>
<rect x="234.5" y="188.2" width="3.6" height="3.2" fill="none" stroke="#000" stroke-width="0.9"/>
<rect x="238.5" y="188.2" width="3.6" height="3.2" fill="none" stroke="#000" stroke-width="0.9"/>
<rect x="211" y="192.6" width="4" height="3.2" fill="none" stroke="#000" stroke-width="0.9"/>
<rect x="234.5" y="192.6" width="3.6" height="3.2" fill="none" stroke="#000" stroke-width="0.9"/>
<rect x="238.5" y="192.6" width="3.6" height="3.2" fill="none" stroke="#000" stroke-width="0.9"/>
<rect x="211" y="197.0" width="4" height="3.2" fill="none" stroke="#000" stroke-width="0.9"/>
<rect x="234.5" y="197.0" width="3.6" height="3.2" fill="none" stroke="#000" stroke-width="0.9"/>
<rect x="238.5" y="197.0" width="3.6" height="3.2" fill="none" stroke="#000" stroke-width="0.9"/>
<rect x="211" y="201.4" width="4" height="3.2" fill="none" stroke="#000" stroke-width="0.9"/>
<rect x="234.5" y="201.4" width="3.6" height="3.2" fill="none" stroke="#000" stroke-width="0.9"/>
<rect x="238.5" y="201.4" width="3.6" height="3.2" fill="none" stroke="#000" stroke-width="0.9"/>
<rect x="211" y="205.8" width="4" height="3.2" fill="none" stroke="#000" stroke-width="0.9"/>
<rect x="234.5" y="205.8" width="3.6" height="3.2" fill="none" stroke="#000" stroke-width="0.9"/>
<rect x="238.5" y="205.8" width="3.6" height="3.2" fill="none" stroke="#000" stroke-width="0.9"/>
<rect x="211" y="210.2" width="4" height="3.2" fill="none" stroke="#000" stroke-width="0.9"/>
<rect x="234.5" y="210.2" width="3.6" height="3.2" fill="none" stroke="#000" stroke-width="0.9"/>
<rect x="238.5" y="210.2" width="3.6" height="3.2" fill="none" stroke="#000" stroke-width="0.9"/>
<polyline points="293.5,51.0 293.5,86.0" fill="none" stroke="#000" stroke-width="1.3" />
<polyline points="293.5,86.0 293.5,228.0" fill="none" stroke="#000" stroke-width="1" stroke-dasharray="5,3" />
<polyline points="293.5,228.0 293.5,245.0" fill="none" stroke="#000" stroke-width="1.2" />
<polyline points="247.0,156.5 293.0,156.5" fill="none" stroke="#000" stroke-width="1" stroke-dasharray="3,2" />
<text x="253.4" y="106.4" font-family="Liberation Serif" font-size="7.2" font-weight="normal" font-style="normal" text-anchor="start" textLength="63" lengthAdjust="spacingAndGlyphs" stroke="#000" stroke-width="0.1">Method of making</text>
<text x="253.4" y="113.9" font-family="Liberation Serif" font-size="7.2" font-weight="normal" font-style="normal" text-anchor="start" textLength="90" lengthAdjust="spacingAndGlyphs" stroke="#000" stroke-width="0.1">joint when work on section</text>
<text x="253.4" y="121.3" font-family="Liberation Serif" font-size="7.2" font-weight="normal" font-style="normal" text-anchor="start" textLength="74" lengthAdjust="spacingAndGlyphs" stroke="#000" stroke-width="0.1">was not continuous.</text>
<text x="253.4" y="128.8" font-family="Liberation Serif" font-size="7.2" font-weight="normal" font-style="normal" text-anchor="start" textLength="78" lengthAdjust="spacingAndGlyphs" stroke="#000" stroke-width="0.1">Part of joint on radial</text>
<text x="253.4" y="136.2" font-family="Liberation Serif" font-size="7.2" font-weight="normal" font-style="normal" text-anchor="start" textLength="85" lengthAdjust="spacingAndGlyphs" stroke="#000" stroke-width="0.1">line, part sloping slightly</text>
<text x="253.4" y="143.7" font-family="Liberation Serif" font-size="7.2" font-weight="normal" font-style="normal" text-anchor="start" textLength="65" lengthAdjust="spacingAndGlyphs" stroke="#000" stroke-width="0.1">toward outside of</text>
<text x="253.4" y="151.1" font-family="Liberation Serif" font-size="7.2" font-weight="normal" font-style="normal" text-anchor="start" textLength="18" lengthAdjust="spacingAndGlyphs" stroke="#000" stroke-width="0.1">arch.</text>
<text x="249.5" y="272.0" font-family="Liberation Serif" font-size="11" font-weight="bold" font-style="italic" text-anchor="start" textLength="9.5" lengthAdjust="spacingAndGlyphs" >A</text>
<polyline points="326.1,243.6 326.9,237.3 327.9,231.0 329.2,224.8 330.7,218.6 332.3,212.5 334.3,206.4 336.4,200.4 338.7,194.5 341.2,188.7 344.0,182.9 346.9,177.3 350.1,171.8 353.4,166.4 356.9,161.1 360.6,155.9 364.5,150.9 368.6,146.0 372.8,141.2 377.2,136.7 381.8,132.2 386.5,128.0 391.4,123.9 396.4,120.0 401.5,116.2 406.8,112.7 412.2,109.3 417.7,106.1 423.3,103.1 429.0,100.4 434.9,97.8 440.8,95.4 446.7,93.3 452.8,91.3 458.9,89.6 465.1,88.1 471.3,86.8 477.6,85.7 483.9,84.9 490.2,84.3 496.6,83.9 502.9,83.7 509.3,83.8 515.6,84.0 522.0,84.5 528.3,85.3 534.6,86.2 540.8,87.4 547.0,88.8 553.2,90.4 559.3,92.2 565.3,94.3 571.2,96.5 577.1,99.0 582.9,101.6 588.5,104.5 594.1,107.6 599.5,110.8 604.9,114.3 610.1,117.9 615.2,121.8" fill="none" stroke="#000" stroke-width="1.8" />
<polyline points="355.9,163.0 357.6,160.4 359.5,157.9 361.3,155.3 363.2,152.9 365.2,150.4 367.2,148.0 369.2,145.6 371.3,143.3 373.4,140.9 375.6,138.7 377.7,136.4 380.0,134.3" fill="none" stroke="#000" stroke-width="3.4" />
<polyline points="379.0,133.2 379.8,132.5 380.5,131.8 381.3,131.1 382.1,130.4 382.8,129.6 383.6,128.9 384.4,128.2 385.2,127.5 386.0,126.8 386.8,126.2 387.6,125.5 388.4,124.8" fill="none" stroke="#000" stroke-width="1.2" />
<polyline points="389.0,125.6 391.4,123.6 393.9,121.6 396.4,119.7 398.9,117.8 401.5,116.0 404.1,114.2 406.7,112.5 409.3,110.8 412.0,109.2 414.7,107.6 417.4,106.0 420.2,104.5" fill="none" stroke="#000" stroke-width="3.6" />
<polyline points="420.1,104.4 423.3,102.7 426.6,101.1 430.0,99.5 433.3,98.0 436.7,96.6 440.1,95.3 443.5,94.0 447.0,92.8 450.5,91.6 454.0,90.6 457.5,89.6 461.1,88.6" fill="none" stroke="#000" stroke-width="3.6" />
<polyline points="461.1,88.8 462.6,88.5 464.2,88.1 465.7,87.8 467.2,87.4 468.8,87.1 470.3,86.8 471.8,86.5 473.4,86.2 474.9,86.0 476.5,85.7 478.0,85.5 479.6,85.2" fill="none" stroke="#000" stroke-width="2.6" />
<polyline points="510.9,83.0 512.7,83.1 514.6,83.2 516.4,83.3 518.2,83.4 520.1,83.6 521.9,83.7 523.7,83.9 525.5,84.1 527.4,84.3 529.2,84.6 531.0,84.8 532.8,85.1" fill="none" stroke="#000" stroke-width="2.4" />
<polyline points="542.5,84.9 549.0,86.4 555.4,88.1 561.7,90.1 568.0,92.3 574.2,94.7 580.2,97.3 586.2,100.2 592.1,103.3 597.9,106.5 603.5,110.0 609.0,113.7 614.4,117.6" fill="none" stroke="#000" stroke-width="1.1" />
<polyline points="595.1,106.5 596.7,107.5 598.3,108.4 599.8,109.4 601.4,110.4 603.0,111.4 604.5,112.4 606.0,113.4 607.6,114.4 609.1,115.5 610.6,116.6 612.1,117.6 613.5,118.7" fill="none" stroke="#000" stroke-width="2.8" />
<polyline points="372.6,144.5 376.1,140.7 379.8,137.0 383.5,133.4 387.3,129.9 391.2,126.6 395.3,123.3" fill="none" stroke="#000" stroke-width="1" />
<polyline points="530.0,82.7 537.3,83.9 544.6,85.3 551.8,87.1 558.9,89.2 566.0,91.5 572.9,94.2" fill="none" stroke="#000" stroke-width="1" />
<polyline points="361.7,250.0 361.9,245.0 362.3,240.0 362.9,235.1 363.6,230.2 364.5,225.3 365.6,220.4 366.9,215.6 368.3,210.8 369.9,206.1 371.7,201.5 373.6,196.9 375.7,192.4 378.0,187.9 380.4,183.6 382.9,179.3 385.6,175.1 388.5,171.0 391.5,167.0 394.6,163.2 397.9,159.4 401.3,155.8 404.8,152.3 408.4,148.9 412.2,145.6 416.1,142.5 420.0,139.5 424.1,136.6 428.3,133.9 432.6,131.4 436.9,129.0 441.4,126.8 445.9,124.7 450.5,122.7 455.2,121.0 459.9,119.4 464.6,118.0 469.5,116.7 474.3,115.6 479.2,114.7 484.1,113.9 489.1,113.4 494.0,113.0 499.0,112.8 504.0,112.7 509.0,112.8 513.9,113.1 518.9,113.6 523.8,114.3 528.7,115.1 533.6,116.1 538.4,117.3 543.2,118.6 548.0,120.1 552.7,121.8 557.3,123.6 561.8,125.6 566.3,127.8 570.7,130.1 575.1,132.6 579.3,135.2" fill="none" stroke="#000" stroke-width="1.5" />
<polyline points="300.0,254.7 305.6,252.5 316.7,239.0 303.4,218.0 320.0,209.0 319.0,185.7 332.3,175.7 323.4,150.0 345.7,141.1 356.8,135.6 358.7,123.6 361.4,115.2 367.5,113.4 377.1,104.7 392.0,103.0 399.8,93.3 407.7,80.2 431.3,80.2 440.9,68.8 451.4,61.0 454.9,61.0 470.6,68.0 481.0,65.4 489.9,59.2 500.0,53.5 514.0,57.0 530.6,66.0 562.0,57.0 577.0,86.7 591.0,87.6 612.8,83.2 617.0,102.4 632.0,109.4 640.7,100.7" fill="none" stroke="#000" stroke-width="1.1" />
<path d="M301.7 254.0L299.4 247.0M309.3 248.1L303.8 242.9M310.0 228.4L306.5 231.7M312.6 213.0L311.4 209.6M319.7 201.1L315.2 200.3M328.6 178.4L322.8 173.1M327.9 162.9L322.8 164.9M329.9 147.4L325.5 139.1M350.9 138.5L347.3 132.3M357.4 131.9L353.3 132.2M360.5 118.0L356.1 114.9M365.4 114.0L363.4 106.2M370.1 111.0L366.7 107.0M388.3 103.4L387.0 95.0M395.7 98.4L392.2 95.0M401.5 90.5L398.0 86.4M419.4 80.2L419.6 73.6M434.5 76.4L429.1 71.4M444.1 66.4L440.6 61.3M452.8 61.0L452.1 53.9M458.7 62.7L463.0 55.0M476.9 66.4L476.7 58.7M485.0 62.6L481.3 55.0M497.3 55.0L493.6 49.8M510.2 56.0L509.7 51.5M525.0 63.0L529.3 56.4M541.7 62.8L539.9 57.8M565.6 64.2L571.6 63.3M586.1 87.3L585.5 80.9M602.2 85.3L598.8 77.9M615.8 96.7L624.0 95.4M623.8 105.6L628.1 98.9M636.5 104.9L633.4 102.3" fill="none" stroke="#000" stroke-width="1"/>
<text x="430.0" y="200.6" font-family="Liberation Sans" font-size="10.2" font-weight="bold" font-style="normal" text-anchor="start" textLength="47.5" lengthAdjust="spacingAndGlyphs" >SECTION</text>
<text x="433.0" y="239.4" font-family="Liberation Serif" font-size="12" font-weight="normal" font-style="italic" text-anchor="start" textLength="10" lengthAdjust="spacingAndGlyphs" >D</text>
<text x="380.8" y="260.8" font-family="Liberation Serif" font-size="11" font-weight="bold" font-style="normal" text-anchor="start" textLength="99.7" lengthAdjust="spacingAndGlyphs" >Method of Lapping</text>
<text x="387.5" y="272.7" font-family="Liberation Serif" font-size="11" font-weight="bold" font-style="normal" text-anchor="start" textLength="81.3" lengthAdjust="spacingAndGlyphs" >Mats over Arch</text>
<polyline points="506.4,163.0 553.0,163.0 553.0,298.0" fill="none" stroke="#000" stroke-width="1.2" />
<polyline points="506.4,163.0 506.4,293.0" fill="none" stroke="#000" stroke-width="1" stroke-dasharray="6,2" />
<polyline points="506.4,201.4 553.0,201.4" fill="none" stroke="#000" stroke-width="1" />
<polyline points="506.4,220.3 553.0,220.3" fill="none" stroke="#000" stroke-width="1" />
<polyline points="506.4,239.2 553.0,239.2" fill="none" stroke="#000" stroke-width="1" />
<polyline points="506.4,276.5 553.0,276.5" fill="none" stroke="#000" stroke-width="1" />
<polyline points="506.4,182.4 553.0,182.4" fill="none" stroke="#000" stroke-width="1" stroke-dasharray="6,3" />
<polyline points="506.4,258.1 553.0,258.1" fill="none" stroke="#000" stroke-width="1" stroke-dasharray="6,3" />
<polyline points="534.2,182.0 534.2,258.0" fill="none" stroke="#000" stroke-width="1" stroke-dasharray="5,3" />
<polyline points="506.4,293.2 553.0,294.0" fill="none" stroke="#000" stroke-width="1.2" />
<polyline points="553.0,294.0 553.0,298.0 534.0,300.0" fill="none" stroke="#000" stroke-width="1" />
<polyline points="553.0,188.4 570.0,190.5 570.0,304.0 553.0,298.6" fill="none" stroke="#000" stroke-width="1.5" />
<polyline points="570.0,186.5 587.6,182.0 587.6,290.0" fill="none" stroke="#000" stroke-width="1" />
<polyline points="570.0,290.5 587.6,289.0" fill="none" stroke="#000" stroke-width="1" stroke-dasharray="4,2" />
<polyline points="587.6,178.9 606.0,184.0 606.0,287.0" fill="none" stroke="#000" stroke-width="1.6" />
<polyline points="587.6,288.0 606.0,287.0" fill="none" stroke="#000" stroke-width="1" stroke-dasharray="4,2" />
<polyline points="606.0,181.0 613.7,186.0 613.7,284.0" fill="none" stroke="#000" stroke-width="1.4" />
<polyline points="613.7,186.0 619.4,189.0 619.4,282.4" fill="none" stroke="#000" stroke-width="1" stroke-dasharray="5,2" />
<polyline points="553.0,181.5 606.0,181.5" fill="none" stroke="#000" stroke-width="1" stroke-dasharray="5,3" />
<text x="565.0" y="266.0" font-family="Liberation Serif" font-size="9" font-weight="bold" font-style="normal" text-anchor="start" textLength="52" lengthAdjust="spacingAndGlyphs" transform="rotate(-90 565.0 266.0)" >These Mats</text>
<text x="584.0" y="254.0" font-family="Liberation Serif" font-size="9" font-weight="bold" font-style="normal" text-anchor="start" textLength="42" lengthAdjust="spacingAndGlyphs" transform="rotate(-90 584.0 254.0)" >11 ft. long</text>
<text x="548.2" y="316.5" font-family="Liberation Sans" font-size="9.5" font-weight="bold" font-style="normal" text-anchor="start" textLength="28.5" lengthAdjust="spacingAndGlyphs" >PLAN</text>
<path d="M677.8 119.6h1v1h-1zM764.8 63.7h1v1h-1zM689.7 90.9h1v1h-1zM732.5 75.8h1v1h-1zM717.8 80.0h1v1h-1zM677.4 120.6h1v1h-1zM661.5 172.6h1v1h-1zM688.9 92.3h1v1h-1zM707.4 82.9h1v1h-1zM702.7 84.2h1v1h-1zM659.6 172.7h1v1h-1zM684.5 95.7h1v1h-1zM677.8 98.0h1v1h-1zM740.8 70.3h1v1h-1zM686.5 91.9h1v1h-1zM733.6 67.0h1v1h-1zM704.4 84.4h2v2h-2zM662.1 220.5h1v1h-1zM663.6 179.6h1v1h-1zM673.1 105.7h1v1h-1zM662.5 118.6h1v1h-1zM689.9 96.6h1v1h-1zM745.5 70.1h1.6v2h-1.6zM700.0 76.3h1v1h-1zM674.0 112.9h1v1h-1zM686.9 93.1h1v1h-1zM750.7 62.8h1v1h-1zM660.7 183.4h1v1h-1zM663.9 127.2h1v1h-1zM718.7 70.7h1v1h-1zM661.0 160.2h1v1h-1zM677.9 106.0h1v1h-1zM706.0 85.1h1v1h-1zM666.7 162.6h1v1h-1zM656.9 170.8h1v1h-1zM749.3 64.0h1v1h-1zM661.6 173.5h1v1h-1zM731.1 75.8h1v1h-1zM731.0 69.4h1v1h-1zM719.5 76.2h1v1h-1zM660.1 144.3h1v1h-1zM687.4 84.1h1v1h-1zM671.7 114.2h1v1h-1zM686.3 100.5h1v1h-1zM666.0 189.6h1v1h-1zM664.2 241.3h1v1h-1zM656.9 215.1h1v1h-1zM661.4 159.0h1v1h-1zM682.8 99.6h1v1h-1zM659.2 141.8h1v1h-1zM661.2 140.3h1v1h-1zM723.4 71.3h1v1h-1zM748.9 67.9h1v1h-1zM664.8 212.5h1v1h-1zM657.9 180.2h1.6v2h-1.6zM664.3 188.5h1v1h-1zM677.7 102.1h1v1h-1zM670.3 126.8h1v1h-1zM664.7 144.1h1v1h-1zM670.8 123.9h2v2h-2zM738.8 72.6h2v1.4h-2zM692.4 93.6h1v1h-1zM760.6 61.3h1v1h-1zM657.7 181.7h1v1h-1zM676.7 120.3h1v1h-1zM665.1 185.4h1v1h-1zM693.2 85.6h1v1h-1zM657.7 226.6h1v1h-1zM663.6 189.6h1v1h-1zM664.3 151.7h1v1h-1zM759.2 62.6h1.6v1.4h-1.6zM688.7 102.2h1v1h-1zM707.5 86.2h1v1h-1zM658.5 156.3h1v1h-1zM717.0 72.1h1v1h-1zM660.6 234.4h1v1h-1zM661.0 129.5h1v1h-1zM683.1 105.0h1v1h-1zM692.1 89.7h1v1h-1zM662.4 117.5h1v1h-1zM657.1 216.4h1v1h-1zM659.3 191.0h1v1h-1zM656.9 171.3h1v1h-1zM660.4 157.6h1v1h-1zM683.4 104.7h1v1h-1zM658.2 227.7h1v1h-1zM661.3 165.3h1v1h-1zM665.5 189.4h1v1h-1zM685.9 84.9h1v1h-1zM663.6 122.2h1v1h-1zM662.9 199.0h1v1h-1zM658.7 182.5h1v1h-1zM715.9 79.0h1v1h-1zM727.4 70.6h1v1h-1zM662.8 221.8h1v1h-1zM665.3 206.7h1v1h-1zM663.2 144.8h1v1h-1zM663.5 132.3h1v1h-1zM709.6 72.9h1v1h-1zM656.5 239.9h1v1h-1zM701.0 87.1h1v1h-1zM685.5 102.2h1v1h-1zM705.1 75.4h1v1h-1zM660.6 235.5h1.6v2h-1.6zM670.2 106.0h1v1h-1zM721.5 71.6h1v1h-1zM687.4 82.0h1.6v2h-1.6zM661.8 209.5h1v1h-1zM693.0 93.5h1v1h-1zM695.3 89.7h1v1h-1zM662.8 127.7h1v1h-1zM714.5 79.8h1v1h-1zM743.8 70.0h1v1h-1zM668.9 140.2h1v1h-1zM665.8 173.9h1v1h-1zM664.1 171.6h1v1h-1zM665.6 175.9h1v1h-1zM656.7 192.2h1v1h-1zM704.5 81.4h1v1h-1zM668.5 113.5h1v1h-1zM715.0 75.5h1v1h-1zM689.8 78.7h1v1h-1zM664.2 170.0h1v1h-1zM756.0 70.4h1v1h-1zM748.6 66.1h1v1h-1zM760.4 61.9h1v1h-1zM666.0 188.6h1v1h-1zM741.2 69.8h1v1h-1zM661.0 146.2h1v1h-1zM675.4 100.9h1v1h-1zM658.9 129.7h1v1h-1zM685.7 106.1h1v1h-1zM661.7 129.4h1v1h-1zM665.4 192.8h1v1h-1zM668.8 120.0h1v1h-1zM666.2 156.0h1v1h-1zM707.5 75.3h1v1h-1zM671.4 127.7h1v1h-1zM662.4 207.1h1v1h-1zM656.2 237.9h1v1h-1zM676.1 107.5h1v1h-1zM657.8 216.9h1v1h-1zM697.5 95.2h1v1h-1zM667.2 136.3h1v1h-1zM659.2 132.6h1v1h-1zM747.1 66.8h1v1h-1zM658.4 165.2h1v1h-1zM666.0 133.3h1v1h-1zM663.5 142.8h1v1h-1z" fill="#000"/>
<path d="M664.0 126.7L666.3 127.0M664.0 126.7L663.8 128.9M663.8 128.9L665.1 129.5M663.8 128.9L664.1 132.2M664.1 132.2L665.3 132.3M666.5 122.0L668.1 120.6M666.5 122.0L665.7 123.9M665.7 123.9L669.2 124.7M665.7 123.9L666.3 127.0M666.3 127.0L669.6 127.3M666.3 127.0L665.1 129.5M665.1 129.5L665.3 132.3M665.3 132.3L669.2 131.8M665.3 132.3L665.0 135.7M665.0 135.7L669.1 135.5M669.9 115.5L671.1 115.6M668.1 120.6L671.1 121.1M668.1 120.6L672.4 123.7M669.6 127.3L671.8 126.0M669.6 127.3L669.2 130.4M669.2 130.4L671.1 129.3M671.1 109.8L672.6 111.4M672.6 111.4L671.1 115.6M671.1 115.6L674.8 116.1M671.1 115.6L672.8 117.6M672.8 117.6L674.3 116.9M672.8 117.6L673.9 120.6M671.1 121.1L673.9 120.6M672.4 123.7L671.8 126.0M671.8 126.0L673.9 126.3M675.0 100.5L677.0 100.2M675.0 100.5L678.8 102.0M674.4 102.7L678.8 102.0M674.4 102.7L674.0 104.9M674.0 104.9L674.4 109.8M674.4 109.8L678.5 107.8M674.4 109.8L673.9 111.2M674.4 109.8L677.9 112.7M673.9 111.2L674.8 116.1M674.8 116.1L678.7 114.7M674.8 116.1L674.3 116.9M674.3 116.9L673.9 120.6M673.8 124.4L673.9 126.3M676.8 98.0L677.0 100.2M677.0 100.2L678.8 102.0M678.8 102.0L681.9 104.0M678.8 102.0L677.0 106.3M678.8 102.0L680.1 105.4M677.0 106.3L680.1 105.4M677.0 106.3L678.5 107.8M678.5 107.8L680.2 109.8M678.5 107.8L677.9 112.7M677.9 112.7L678.7 114.7M680.3 91.6L681.4 95.0M681.4 95.0L685.1 93.9M681.6 96.5L684.6 97.3M681.5 100.9L684.6 101.0M681.9 104.0L680.1 105.4M681.9 104.0L683.9 106.1M680.1 105.4L683.9 106.1M684.8 86.0L684.7 88.0M684.7 88.0L686.3 88.7M684.7 88.0L683.2 91.8M683.2 91.8L687.1 90.7M683.2 91.8L685.1 93.9M685.1 93.9L687.4 94.5M685.1 93.9L687.3 96.6M684.6 97.3L684.6 101.0M684.6 101.0L687.0 98.8M684.6 101.0L684.4 102.1M684.6 101.0L686.8 101.9M684.4 102.1L686.8 101.9M684.4 102.1L683.9 106.1M684.4 102.1L687.2 105.0M683.9 106.1L687.2 105.0M688.1 82.1L690.9 82.6M686.7 85.3L686.3 88.7M686.3 88.7L690.9 87.5M686.3 88.7L690.0 92.2M687.1 90.7L690.0 92.2M687.4 94.5L689.3 94.4M687.4 94.5L687.3 96.6M687.3 96.6L687.0 98.8M687.0 98.8L691.0 100.0M686.8 101.9L689.2 102.7M686.8 101.9L687.2 105.0M690.9 82.6L691.9 82.3M689.3 85.6L692.1 84.2M690.9 87.5L692.4 88.1M690.9 87.5L690.0 92.2M690.0 92.2L692.0 90.6M690.0 92.2L689.3 94.4M689.3 94.4L690.7 97.2M690.7 97.2L693.6 96.9M690.7 97.2L691.0 100.0M691.0 100.0L689.2 102.7M692.4 76.4L696.3 75.4M692.4 76.4L692.8 78.1M692.8 78.1L695.3 79.8M692.8 78.1L691.9 82.3M691.9 82.3L692.1 84.2M692.1 84.2L696.8 84.3M692.1 84.2L692.4 88.1M692.4 88.1L696.0 88.9M692.4 88.1L696.5 90.7M692.5 93.4L695.7 94.9M692.5 93.4L693.6 96.9M693.6 96.9L696.4 96.2M696.3 75.4L698.4 75.4M695.3 79.8L698.3 79.9M696.8 84.3L699.5 84.6M696.8 84.3L696.0 88.9M696.8 84.3L699.7 87.5M696.0 88.9L699.7 87.5M696.0 88.9L696.5 90.7M696.5 90.7L699.3 91.3M696.5 90.7L695.7 94.9M698.4 75.4L698.3 79.9M698.3 79.9L699.9 81.3M699.9 81.3L701.7 83.2M699.9 81.3L699.5 84.6M699.5 84.6L699.7 87.5M702.4 73.4L706.0 72.5M702.4 73.4L704.4 75.9M702.0 75.4L702.2 79.4M702.2 79.4L701.7 83.2M701.7 83.2L704.6 82.2M701.7 83.2L701.9 84.0M701.9 84.0L705.9 84.9M701.9 84.0L701.7 88.1M701.7 88.1L701.6 91.7M706.0 72.5L704.4 75.9M704.4 75.9L709.1 77.1M704.4 75.9L703.8 78.0M703.8 78.0L704.6 82.2M704.6 82.2L707.1 83.2M704.6 82.2L705.9 84.9M708.3 73.0L709.1 77.1M709.1 77.1L707.5 79.2M707.5 79.2L710.3 78.3M707.5 79.2L707.1 83.2M707.1 83.2L712.1 81.2M711.2 69.6L710.7 73.4M711.2 69.6L713.0 72.6M710.7 73.4L711.8 75.7M711.8 75.7L713.0 77.2M711.8 75.7L710.3 78.3M712.1 81.2L713.5 82.1M714.1 69.8L716.0 70.9M714.1 69.8L713.0 72.6M714.1 69.8L716.2 74.1M713.0 72.6L716.2 74.1M713.0 72.6L713.0 77.2M713.0 77.2L713.1 77.9M713.1 77.9L716.5 79.2M713.1 77.9L713.5 82.1M716.3 67.6L719.2 67.5M716.0 70.9L720.0 70.8M716.0 70.9L716.2 74.1M716.2 74.1L717.4 76.8M717.4 76.8L719.8 76.7M717.4 76.8L716.5 79.2M716.5 79.2L719.2 78.0M720.0 70.8L721.1 72.2M721.1 72.2L719.8 76.7M719.8 76.7L723.9 76.9M719.2 78.0L722.3 77.8M722.4 66.8L726.8 67.5M722.4 66.8L723.4 69.3M723.4 69.3L725.8 70.7M723.4 69.3L721.8 72.1M721.8 72.1L726.2 74.2M723.9 76.9L725.5 77.0M723.9 76.9L722.3 77.8M722.3 77.8L726.3 78.2M726.8 67.5L729.3 68.1M726.8 67.5L725.8 70.7M725.8 70.7L729.0 69.6M725.8 70.7L726.2 74.2M726.2 74.2L730.0 73.6M726.2 74.2L725.5 77.0M726.2 74.2L729.7 76.5M725.5 77.0L729.7 76.5M725.5 77.0L726.3 78.2M729.3 68.1L729.0 69.6M729.0 69.6L731.9 69.6M729.0 69.6L730.0 73.6M730.0 73.6L730.9 73.7M729.7 76.5L731.1 75.8M731.9 69.6L735.9 70.0M730.9 73.7L735.6 74.9M731.1 75.8L735.6 74.9M734.8 67.6L739.1 68.1M735.9 70.0L738.2 70.4M735.9 70.0L734.3 72.2M734.3 72.2L735.6 74.9M739.1 68.1L740.6 68.1M740.6 68.1L745.2 67.6M740.6 68.1L741.7 70.6M741.7 70.6L744.7 68.9M744.8 64.2L745.9 64.9M744.8 64.2L747.5 66.8M745.2 67.6L747.5 66.8M745.2 67.6L744.7 68.9M748.0 61.8L750.4 62.1M748.0 61.8L745.9 64.9M748.0 61.8L750.1 62.9M745.9 64.9L750.1 66.5M747.5 66.8L750.1 66.5M745.9 69.3L750.6 70.0M750.4 62.1L753.8 60.4M750.4 62.1L750.1 62.9M750.1 62.9L754.2 63.2M750.1 66.5L750.6 70.0M754.2 63.2L752.7 67.9M752.7 67.9L756.0 67.8M752.9 69.4L756.0 69.5M755.5 60.7L756.2 64.6M756.2 64.6L759.3 64.5M756.2 64.6L756.0 67.8M756.0 67.8L758.1 66.5M756.0 67.8L756.0 69.5M756.0 67.8L758.6 69.0M756.0 69.5L758.6 69.0M759.1 61.0L759.3 64.5M759.3 64.5L763.2 65.0M759.3 64.5L758.1 66.5M758.1 66.5L758.6 69.0M762.5 60.3L765.6 61.0M763.2 65.0L764.5 63.6M763.1 66.2L761.8 68.8M761.8 68.8L764.2 69.3M764.5 63.6L764.3 67.0" fill="none" stroke="#000" stroke-width="1.1"/>
<path d="M656.8 144.4L656.3 148.3M656.3 148.3L660.6 148.2M656.8 186.6L659.0 185.9M657.0 206.4L661.0 207.9M657.0 223.5L661.0 224.6M657.0 223.5L656.5 228.9M656.3 236.3L659.6 236.8M660.3 139.0L660.6 143.4M660.6 143.4L665.3 145.4M660.6 148.2L665.2 148.6M659.1 154.0L659.2 156.2M659.2 156.2L664.7 158.1M660.3 165.3L663.4 165.8M659.7 173.1L663.3 174.4M660.7 177.8L665.5 178.2M660.7 177.8L663.4 182.8M660.2 183.2L663.4 182.8M660.4 189.5L664.8 191.7M660.4 189.5L660.8 194.6M660.8 194.6L663.6 194.2M661.3 202.1L661.0 207.9M661.0 207.9L663.5 207.3M659.8 215.9L661.2 218.9M659.8 215.9L665.0 219.6M661.2 218.9L665.0 219.6M661.2 218.9L661.0 224.6M661.0 224.6L664.8 224.9M661.0 224.6L659.5 229.5M659.5 229.5L663.4 228.5M659.7 231.4L663.8 237.2M659.6 236.8L663.3 241.8M659.1 241.2L663.3 241.8M665.5 141.1L665.3 145.4M664.7 158.1L664.8 161.4M664.8 161.4L663.4 165.8M663.3 174.4L665.5 178.2M663.4 182.8L663.6 186.9M664.8 191.7L663.6 194.2M663.6 194.2L664.0 198.0M664.1 214.6L665.0 219.6M664.8 224.9L663.4 228.5M663.4 228.5L665.5 231.9M665.5 231.9L663.8 237.2" fill="none" stroke="#000" stroke-width="0.8"/>
<polyline points="766.3,58.5 763.1,57.9 758.5,60.9 755.5,59.1 750.5,61.4 745.5,64.3 741.1,64.1 738.1,66.4 731.3,66.8 727.0,64.9 722.4,66.4 716.2,68.5 712.5,69.2 708.0,69.5 702.1,74.4 699.2,73.5 696.4,76.6 688.6,76.4 686.6,79.7 683.2,84.1 681.8,87.1 678.9,89.6 675.8,95.8 675.9,98.2 671.0,100.7 668.4,105.3 665.6,109.2 663.5,112.9 662.6,117.8 660.7,121.9 659.7,127.8 657.7,129.7 657.1,135.2 657.0,138.6 657.3,142.5 656.2,148.4 655.3,154.3 656.7,155.9 656.0,161.8 654.3,164.2 656.4,170.8 656.0,174.0 656.3,177.7 657.8,184.5 656.5,185.4 656.3,192.5 656.2,194.3 655.9,200.8 657.3,203.5 657.2,209.5 658.4,214.1 656.4,218.3 658.0,222.8 657.3,226.1 656.3,231.4 656.7,235.2 655.1,237.2 656.0,243.0" fill="none" stroke="#000" stroke-width="1.1" />
<path d="M766.0 58.0L765.3 51.2M758.6 59.4L760.4 55.1M750.0 61.0L749.5 54.2M742.9 63.6L744.4 59.3M738.0 65.3L738.0 59.3M730.9 67.3L730.7 59.5M727.9 66.7L730.5 62.4M724.8 66.1L726.4 63.1M720.5 66.1L718.4 62.7M716.7 67.2L710.7 63.1M713.4 68.3L710.7 65.9M705.7 71.7L702.9 65.1M697.6 75.1L696.3 70.2M692.4 76.4L688.9 71.5M686.3 82.1L680.8 78.1M681.5 88.9L678.8 83.1M677.8 94.0L672.8 94.1M673.2 100.7L667.5 97.7M670.7 104.6L667.5 101.8M666.5 111.0L665.0 108.1M662.7 116.9L655.0 117.4M661.3 120.6L654.2 123.0M659.5 127.1L654.8 129.7M657.4 134.8L650.8 136.5M656.2 139.4L651.2 138.5M656.0 142.7L650.4 143.6M656.0 149.4L652.0 149.1M656.0 156.0L648.9 158.4M656.0 159.6L652.7 158.1M656.0 166.0L650.7 167.2M656.1 173.1L653.2 171.7M656.4 181.4L652.8 180.6M656.6 188.6L652.1 186.4M656.9 196.8L652.3 199.7M657.0 201.3L652.9 198.9M656.9 205.8L653.3 202.0M656.7 211.6L652.9 210.2M656.5 219.4L651.3 217.7M656.4 227.2L653.4 225.1M656.2 236.0L649.2 235.6" fill="none" stroke="#000" stroke-width="1.0"/>
<path d="M693.6 247.5h1v1h-1zM680.4 254.3h1v1h-1zM671.4 252.6h2v1.4h-2zM671.9 244.2h1v1h-1zM670.0 251.3h1v1h-1zM699.1 255.6h1v1h-1zM755.4 251.9h1v1h-1zM675.5 247.4h1v1h-1zM754.4 246.9h1v1h-1zM751.1 253.8h2v1.4h-2zM661.1 251.0h2v1.4h-2zM749.0 255.6h1v1h-1zM677.4 248.9h1v1h-1zM736.1 257.5h1v1h-1zM686.9 244.8h1v1h-1zM713.9 256.2h1v1h-1zM666.3 253.1h1v1h-1zM698.0 256.0h2v2h-2zM707.6 248.5h1v1h-1zM719.1 260.2h1v1h-1zM759.3 244.5h2v1.4h-2zM758.9 250.2h1v1h-1zM758.6 246.2h1v1h-1zM685.6 245.2h1v1h-1zM669.6 250.7h1v1h-1zM754.9 248.2h1v1h-1zM673.2 248.1h1.6v2h-1.6zM746.2 245.0h2v1.4h-2zM701.3 245.7h1v1h-1zM696.7 258.1h1v1h-1zM701.8 246.4h1v1h-1zM705.9 256.1h1v1h-1zM686.6 252.0h1v1h-1zM697.6 254.3h1v1h-1zM688.2 246.2h1v1h-1zM687.2 247.0h1v1h-1zM764.5 242.6h1v1h-1zM686.7 249.9h1v1h-1zM689.6 252.3h2v2h-2zM758.8 248.9h1v1h-1zM695.6 245.0h1v1h-1zM672.6 246.3h1v1h-1zM661.0 252.1h2.4v1.4h-2.4zM706.5 247.3h1v1h-1zM687.0 245.5h1v1h-1zM703.4 249.7h1v1h-1zM744.4 254.5h1v1h-1zM693.4 247.0h1v1h-1zM704.1 260.2h1v1h-1zM728.7 255.3h1v1h-1zM664.0 244.0h1v1h-1zM681.3 256.6h1v1h-1zM660.9 250.4h1v1h-1zM707.6 247.4h1v1h-1zM747.0 250.5h1v1h-1zM715.4 261.5h1v1h-1zM749.4 247.9h2.4v1.4h-2.4zM699.1 245.4h1v1h-1zM720.6 255.1h1v1h-1zM680.0 247.4h1v1h-1zM669.8 253.8h1v1h-1zM713.5 260.3h1v1h-1zM710.4 246.9h1v1h-1zM663.7 252.3h1v1h-1zM738.0 258.0h1v1h-1zM706.2 257.6h1v1h-1zM669.8 254.0h1v1h-1zM747.0 252.8h1v1h-1z" fill="#000"/>
<polyline points="659.3,247.7 663.6,248.1 668.8,249.0 672.4,248.7 676.6,250.1 681.2,250.6 685.0,248.8 690.2,250.1 695.4,251.5 699.2,250.5 704.1,251.2 707.4,251.2 711.2,252.5 711.3,254.3 716.8,255.4 720.9,255.5 725.5,256.3 730.0,255.0 732.6,254.5 736.9,254.6 742.2,256.1 741.8,251.7 744.1,246.0 748.7,246.8 752.2,246.5 755.6,243.5 761.4,244.2 765.2,243.0" fill="none" stroke="#000" stroke-width="1.2" />
<path d="M660.0 250.4L659.4 246.7M664.6 250.5L667.9 246.4M672.9 251.6L673.9 247.3M681.5 252.3L682.9 246.4M689.5 253.6L692.6 250.1M694.0 254.3L691.3 249.1M698.7 254.6L700.4 249.5M702.6 254.9L704.0 252.4M712.1 255.6L714.2 252.6M720.7 255.6L721.9 252.5M728.9 255.8L725.8 250.0M737.2 256.0L739.0 253.6M742.8 255.1L741.9 249.9M747.2 253.5L748.8 247.3M752.2 250.7L747.2 248.1M757.6 247.5L756.2 242.8M763.3 244.8L760.2 243.5" fill="none" stroke="#000" stroke-width="1.0"/>
<polyline points="686.0,240.0 699.0,242.5 712.4,244.0" fill="none" stroke="#000" stroke-width="2.5" />
<path d="M689.3 106.4h1v1h-1zM700.6 100.7h1v1h-1zM738.4 86.1h1v1h-1zM701.3 96.8h1v1h-1zM674.5 226.8h1v1h-1zM715.5 85.2h1v1h-1zM710.8 89.8h1v1h-1zM680.1 132.9h1v1h-1zM673.4 175.4h1v1h-1zM668.0 159.0h1v1h-1zM761.5 73.8h1v1h-1zM699.7 96.5h1v1h-1zM676.8 148.2h1v1h-1zM722.5 83.9h1v1h-1zM671.5 186.9h1v1h-1zM747.7 75.2h1v1h-1zM763.5 75.3h1v1h-1zM668.9 231.2h1v1h-1zM741.8 79.5h1v1h-1zM673.5 224.5h1v1h-1zM669.9 144.7h1v1h-1zM734.8 81.0h1v1h-1zM702.0 92.8h1v1h-1zM676.0 197.6h1v1h-1zM728.0 85.4h1v1h-1zM674.0 152.7h1v1h-1zM697.4 112.0h1v1h-1zM669.6 175.6h1v1h-1zM732.1 84.3h1v1h-1zM672.9 165.5h1v1h-1zM672.3 192.1h1v1h-1zM720.7 86.0h1v1h-1zM715.6 95.8h1v1h-1zM671.0 147.2h1v1h-1zM673.3 160.7h1v1h-1zM717.7 82.9h1v1h-1zM736.9 82.6h1v1h-1zM728.2 78.8h1v1h-1zM739.9 79.7h1v1h-1zM673.0 144.9h1v1h-1zM694.2 110.3h1v1h-1zM670.0 201.2h1v1h-1zM675.2 209.4h1v1h-1zM693.8 113.6h1v1h-1zM748.3 75.9h1v1h-1zM680.4 117.9h1v1h-1zM686.5 127.9h1v1h-1zM667.8 232.2h1v1h-1zM754.8 74.5h1v1h-1zM668.4 176.9h1v1h-1zM723.8 86.5h1v1h-1zM675.5 131.8h1v1h-1zM745.0 80.0h1v1h-1zM669.1 184.8h1v1h-1zM700.7 93.6h1v1h-1zM672.1 188.6h1v1h-1zM682.5 133.6h1v1h-1zM726.0 85.7h1v1h-1zM674.9 208.6h1v1h-1zM709.4 90.5h1v1h-1zM681.0 115.0h1v1h-1zM747.1 75.1h1v1h-1zM677.8 130.8h1v1h-1zM681.2 129.1h1v1h-1zM673.3 154.0h1v1h-1z" fill="#000"/>
<polyline points="765.4,71.5 745.0,71.5 711.0,84.0 682.0,110.0 667.0,148.0 666.0,243.0 712.4,244.6" fill="none" stroke="#000" stroke-width="1.6" />
<polyline points="765.4,77.0 746.0,77.0 714.0,89.5 686.0,115.0 671.5,150.0 671.5,240.0" fill="none" stroke="#000" stroke-width="0.9" stroke-dasharray="6,2" />
<polyline points="765.4,82.3 747.8,82.3 716.7,95.6 690.0,120.6 676.2,153.0 676.2,235.0 717.2,241.6 723.2,242.2 723.0,238.0" fill="none" stroke="#000" stroke-width="2.2" />
<polyline points="723.0,238.0 765.4,237.4" fill="none" stroke="#000" stroke-width="1.2" />
<polyline points="723.0,240.4 765.4,240.4" fill="none" stroke="#000" stroke-width="0.9" stroke-dasharray="6,2,2,2" />
<polyline points="765.4,56.7 765.4,83.0" fill="none" stroke="#000" stroke-width="1.5" />
<polyline points="765.4,83.0 765.4,250.0" fill="none" stroke="#000" stroke-width="1" stroke-dasharray="9,3,2,3" />
<polyline points="765.8,250.0 765.8,265.0" fill="none" stroke="#000" stroke-width="1.2" />
<polyline points="765.4,99.5 761.6,99.6 757.9,99.9 754.1,100.4 750.4,101.1 746.8,102.0 743.2,103.0 739.6,104.3 736.1,105.7 732.7,107.3 729.4,109.1 726.2,111.1 723.1,113.3 720.1,115.5 717.2,118.0 714.5,120.6 711.9,123.3 709.4,126.2 707.2,129.2 705.0,132.3 703.0,135.5 701.2,138.8 699.6,142.2 698.2,145.7 696.9,149.3 695.9,152.9 695.0,156.5 694.3,160.2 693.8,164.0 693.5,167.7 693.4,171.5" fill="none" stroke="#000" stroke-width="1" stroke-dasharray="6,3" />
<polyline points="693.4,171.5 693.4,180.0 722.6,180.0 722.6,238.0" fill="none" stroke="#000" stroke-width="1.2" />
<text x="689.0" y="275.5" font-family="Liberation Serif" font-size="14" font-weight="normal" font-style="italic" text-anchor="start" textLength="11" lengthAdjust="spacingAndGlyphs" >F</text>
<polyline points="843.0,56.0 830.0,67.0 817.0,81.8 805.5,95.8 796.6,113.6 794.0,130.0 789.0,145.0 786.0,160.0 785.5,188.0" fill="none" stroke="#000" stroke-width="1.6" />
<polyline points="817.0,81.8 805.5,95.8 796.6,113.6 794.0,130.0 789.0,145.0 786.5,155.0" fill="none" stroke="#000" stroke-width="3.2" />
<polyline points="790.0,140.0 786.5,155.0" fill="none" stroke="#000" stroke-width="3.8" />
<polyline points="840.0,53.0 827.0,64.0 813.2,79.0 801.0,95.0 794.0,107.3" fill="none" stroke="#000" stroke-width="0.9" />
<polyline points="845.0,58.0 833.0,69.0" fill="none" stroke="#000" stroke-width="0.9" />
<text x="803.5" y="87.0" font-family="Liberation Serif" font-size="6.5" font-weight="bold" font-style="normal" text-anchor="start" transform="rotate(-52 803.5 87.0)" >80″</text>
<text x="828.0" y="79.0" font-family="Liberation Serif" font-size="6.5" font-weight="bold" font-style="normal" text-anchor="start" transform="rotate(-45 828.0 79.0)" >15″</text>
<text x="814.0" y="118.0" font-family="Liberation Serif" font-size="11" font-weight="normal" font-style="italic" text-anchor="start" >x</text>
<rect x="863" y="69.2" width="4" height="80.5" fill="#000"/>
<polyline points="860.8,59.6 860.8,144.4" fill="none" stroke="#000" stroke-width="0.9" />
<polyline points="855.0,138.0 867.0,138.0" fill="none" stroke="#000" stroke-width="0.8" />
<polyline points="852.0,146.0 867.0,146.0" fill="none" stroke="#000" stroke-width="0.8" />
<text x="856.0" y="106.0" font-family="Liberation Serif" font-size="6" font-weight="normal" font-style="normal" text-anchor="start" transform="rotate(-90 856.0 106.0)" >30″</text>
<text x="872.0" y="110.0" font-family="Liberation Serif" font-size="12" font-weight="normal" font-style="italic" text-anchor="start" >y</text>
<text x="820.4" y="165.5" font-family="Liberation Serif" font-size="7.5" font-weight="bold" font-style="normal" text-anchor="start" textLength="62" lengthAdjust="spacingAndGlyphs" >Method of Making</text>
<text x="824.5" y="174.2" font-family="Liberation Serif" font-size="7.5" font-weight="bold" font-style="normal" text-anchor="start" textLength="52.5" lengthAdjust="spacingAndGlyphs" >Three-Ply Mats</text>
<text x="771.8" y="196.7" font-family="Liberation Serif" font-size="7.5" font-weight="bold" font-style="normal" text-anchor="start" textLength="33.7" lengthAdjust="spacingAndGlyphs" >Method of</text>
<text x="769.0" y="205.8" font-family="Liberation Serif" font-size="7.5" font-weight="bold" font-style="normal" text-anchor="start" textLength="47.4" lengthAdjust="spacingAndGlyphs" >Lapping Mats</text>
<text x="781.3" y="223.2" font-family="Liberation Sans" font-size="6.6" font-weight="bold" font-style="normal" text-anchor="start" textLength="105" lengthAdjust="spacingAndGlyphs" >DETAILS OF WATER-PROOFING</text>
<text x="775.6" y="234.5" font-family="Liberation Serif" font-size="8" font-weight="normal" font-style="normal" text-anchor="start" textLength="117.7" lengthAdjust="spacingAndGlyphs" stroke="#000" stroke-width="0.35">One layer of felt with 4″ overlap to</text>
<text x="770.2" y="243.6" font-family="Liberation Serif" font-size="8" font-weight="normal" font-style="normal" text-anchor="start" textLength="119.8" lengthAdjust="spacingAndGlyphs" stroke="#000" stroke-width="0.35">be nailed to lagging of inch boards,</text>
<text x="770.2" y="252.6" font-family="Liberation Serif" font-size="8" font-weight="normal" font-style="normal" text-anchor="start" textLength="119.8" lengthAdjust="spacingAndGlyphs" stroke="#000" stroke-width="0.35">using the washers on nails over the</text>
<text x="770.2" y="261.6" font-family="Liberation Serif" font-size="8" font-weight="normal" font-style="normal" text-anchor="start" textLength="120.8" lengthAdjust="spacingAndGlyphs" stroke="#000" stroke-width="0.35">whole of the intrados of the arch</text>
<text x="770.2" y="270.7" font-family="Liberation Serif" font-size="8" font-weight="normal" font-style="normal" text-anchor="start" textLength="123.8" lengthAdjust="spacingAndGlyphs" stroke="#000" stroke-width="0.35">before starting any concrete or plac-</text>
<text x="770.2" y="279.8" font-family="Liberation Serif" font-size="8" font-weight="normal" font-style="normal" text-anchor="start" textLength="121.8" lengthAdjust="spacingAndGlyphs" stroke="#000" stroke-width="0.35">ing any of the permanent felt and</text>
<text x="770.2" y="288.8" font-family="Liberation Serif" font-size="8" font-weight="normal" font-style="normal" text-anchor="start" textLength="119.3" lengthAdjust="spacingAndGlyphs" stroke="#000" stroke-width="0.35">pitch water-proofing. The water-</text>
<text x="770.2" y="297.9" font-family="Liberation Serif" font-size="8" font-weight="normal" font-style="normal" text-anchor="start" textLength="121.8" lengthAdjust="spacingAndGlyphs" stroke="#000" stroke-width="0.35">proofing over the arch can be laid</text>
<text x="770.2" y="306.9" font-family="Liberation Serif" font-size="8" font-weight="normal" font-style="normal" text-anchor="start" textLength="122.5" lengthAdjust="spacingAndGlyphs" stroke="#000" stroke-width="0.35">in mats of three thicknesses of felt</text>
<text x="770.2" y="315.9" font-family="Liberation Serif" font-size="8" font-weight="normal" font-style="normal" text-anchor="start" textLength="123.1" lengthAdjust="spacingAndGlyphs" stroke="#000" stroke-width="0.35">properly joined together with pitch</text>
<text x="770.2" y="325.0" font-family="Liberation Serif" font-size="8" font-weight="normal" font-style="normal" text-anchor="start" textLength="121.8" lengthAdjust="spacingAndGlyphs" stroke="#000" stroke-width="0.35">made as shown diagrammatically at</text>
<text x="770.2" y="334.1" font-family="Liberation Serif" font-size="8" font-weight="normal" font-style="normal" text-anchor="start" textLength="17.5" lengthAdjust="spacingAndGlyphs" stroke="#000" stroke-width="0.35">“y”.</text>
<text x="775.6" y="349.7" font-family="Liberation Serif" font-size="8" font-weight="normal" font-style="normal" text-anchor="start" textLength="116.4" lengthAdjust="spacingAndGlyphs" stroke="#000" stroke-width="0.35">Each of these mats of three-ply</text>
<text x="769.3" y="358.8" font-family="Liberation Serif" font-size="8" font-weight="normal" font-style="normal" text-anchor="start" textLength="125.7" lengthAdjust="spacingAndGlyphs" stroke="#000" stroke-width="0.35">felt will be overlapped half the width</text>
<text x="769.3" y="367.9" font-family="Liberation Serif" font-size="8" font-weight="normal" font-style="normal" text-anchor="start" textLength="122.7" lengthAdjust="spacingAndGlyphs" stroke="#000" stroke-width="0.35">of the one, as shown diagrammati-</text>
<text x="769.3" y="377.0" font-family="Liberation Serif" font-size="8" font-weight="normal" font-style="normal" text-anchor="start" textLength="50.2" lengthAdjust="spacingAndGlyphs" stroke="#000" stroke-width="0.35">cally at “x”.</text>
<text x="597.0" y="396.5" font-family="Liberation Sans" font-size="10.6" font-weight="bold" font-style="normal" text-anchor="start" textLength="159" lengthAdjust="spacingAndGlyphs" >VARIOUS TYPES OF ARCHES,</text>
<text x="671.0" y="409.8" font-family="Liberation Sans" font-size="10.6" font-weight="bold" font-style="normal" text-anchor="start" textLength="22" lengthAdjust="spacingAndGlyphs" >AND</text>
<text x="613.0" y="423.6" font-family="Liberation Sans" font-size="10.6" font-weight="bold" font-style="normal" text-anchor="start" textLength="138" lengthAdjust="spacingAndGlyphs" >WATER-PROOFING USED.</text>
<text x="512.9" y="557.8" font-family="Liberation Serif" font-size="11" font-weight="bold" font-style="normal" text-anchor="start" textLength="8" lengthAdjust="spacingAndGlyphs" >F</text>
<text x="521.5" y="557.8" font-family="Liberation Serif" font-size="8.5" font-weight="bold" font-style="normal" text-anchor="start" textLength="13.5" lengthAdjust="spacingAndGlyphs" >IG.</text>
<text x="537.5" y="557.8" font-family="Liberation Serif" font-size="11" font-weight="bold" font-style="normal" text-anchor="start" textLength="15.6" lengthAdjust="spacingAndGlyphs" >18.</text>
<path d="M241.3 371.0h1v1h-1zM246.8 363.9h2.4v2h-2.4zM221.2 410.7h1v1h-1zM211.0 422.8h2v1.4h-2zM218.9 433.7h1v1h-1zM255.6 375.6h1.6v2h-1.6zM276.3 359.6h1v1h-1zM217.4 432.6h1v1h-1zM222.4 411.8h1.6v1.4h-1.6zM251.9 360.8h1v1h-1zM223.6 421.8h1v1h-1zM239.0 374.8h1v1h-1zM222.2 415.7h1v1h-1zM219.8 397.9h1v1h-1zM225.6 386.8h1v1h-1zM229.8 384.9h1v1h-1zM217.0 415.5h1v1h-1zM228.7 393.5h1v1h-1zM240.8 371.2h1v1h-1zM255.0 372.5h1v1h-1zM253.5 366.6h2.4v1.4h-2.4zM211.7 427.6h1v1h-1zM213.8 428.3h1v1h-1zM251.0 373.0h1v1h-1zM255.6 374.9h1v1h-1zM254.7 367.5h1v1h-1zM214.1 428.5h1v1h-1zM234.2 387.3h1v1h-1zM213.2 433.0h1v1h-1zM206.9 438.1h1v1h-1zM213.5 435.8h1v1h-1zM254.8 364.4h1v1h-1zM213.1 424.5h1v1h-1zM214.0 441.7h1v1h-1zM244.6 382.2h1v1h-1zM238.1 385.6h1v1h-1zM247.5 376.5h1v1h-1zM227.1 381.8h2v2h-2zM252.9 370.9h2v1.4h-2zM247.0 372.5h1v1h-1zM227.9 394.5h1v1h-1zM210.2 412.1h1v1h-1zM229.0 384.2h1v1h-1zM215.3 408.0h2.4v1.4h-2.4zM222.8 416.1h1v1h-1zM220.2 421.9h1v1h-1zM212.8 438.5h1v1h-1zM217.1 437.5h1v1h-1zM227.7 391.0h1.6v2h-1.6zM237.1 373.9h2.4v2h-2.4zM264.1 363.2h1v1h-1zM263.2 369.9h1v1h-1zM278.1 364.9h1v1h-1zM223.9 409.1h1.6v1.4h-1.6zM249.2 365.5h1v1h-1zM207.1 430.3h1v1h-1zM223.3 423.9h1v1h-1zM277.5 361.4h1v1h-1zM235.8 383.5h1v1h-1zM213.0 435.3h1v1h-1zM223.6 409.2h1v1h-1zM211.8 435.3h1v1h-1zM247.0 371.0h1v1h-1zM212.7 428.4h1v1h-1zM236.1 390.5h1v1h-1zM225.8 411.6h1v1h-1zM212.8 431.4h2v2h-2zM221.9 424.9h1v1h-1zM225.5 392.5h1v1h-1zM220.1 395.2h1v1h-1zM217.2 431.3h1v1h-1zM243.1 375.2h1v1h-1zM286.2 356.6h1v1h-1zM226.1 406.6h1v1h-1zM245.6 368.8h1.6v2h-1.6zM236.3 378.6h1v1h-1zM241.0 372.9h1v1h-1zM238.8 390.7h1v1h-1zM230.9 385.7h1v1h-1zM294.0 355.5h1v1h-1zM213.6 411.0h2.4v1.4h-2.4zM244.6 368.6h1v1h-1zM237.4 378.1h1v1h-1zM283.0 354.7h1v1h-1zM241.3 368.5h1v1h-1zM216.3 401.8h1v1h-1zM217.8 437.9h1v1h-1zM232.4 379.7h1v1h-1zM237.3 377.2h1v1h-1zM227.0 406.7h1v1h-1zM209.4 414.9h2.4v1.4h-2.4zM256.6 367.6h1v1h-1zM293.3 360.9h1v1h-1zM229.3 398.8h1v1h-1zM223.3 407.8h1v1h-1zM236.6 386.0h1v1h-1zM232.3 380.3h1v1h-1zM233.9 388.7h1v1h-1zM208.1 429.5h1.6v1.4h-1.6zM233.6 387.2h1v1h-1zM236.2 380.1h1v1h-1zM234.1 384.7h1v1h-1zM277.4 355.9h1v1h-1zM261.5 363.4h2v1.4h-2zM260.3 360.2h1v1h-1zM238.4 371.6h1v1h-1zM275.1 363.0h1v1h-1zM239.5 372.8h1v1h-1zM233.9 390.4h1v1h-1zM211.5 422.4h1v1h-1zM211.9 417.4h1v1h-1zM218.1 418.8h1v1h-1zM230.6 381.1h1v1h-1zM269.1 353.6h1v1h-1zM238.1 391.7h2.4v2h-2.4zM247.6 371.2h1v1h-1zM218.5 398.4h1v1h-1zM221.4 421.7h1v1h-1zM241.8 370.7h1v1h-1zM219.7 410.6h1v1h-1zM254.9 366.6h1v1h-1zM208.3 435.5h1v1h-1zM235.0 387.4h1v1h-1zM239.8 368.5h1v1h-1zM214.7 427.0h1v1h-1zM270.5 360.9h1v1h-1zM250.7 378.8h1v1h-1zM240.6 376.5h1v1h-1zM207.2 433.2h1v1h-1zM235.6 387.6h1v1h-1zM285.9 355.9h1v1h-1zM219.4 394.8h1v1h-1zM217.2 426.4h1v1h-1zM264.8 369.5h1v1h-1zM260.1 360.7h1v1h-1zM259.3 358.8h1v1h-1zM266.3 367.8h1v1h-1zM237.8 370.3h1v1h-1zM220.4 394.7h1v1h-1zM263.2 359.3h1v1h-1zM229.6 382.2h1v1h-1zM222.6 408.5h1v1h-1zM233.9 377.1h1.6v1.4h-1.6zM206.9 428.5h1v1h-1zM278.0 357.3h1v1h-1zM225.2 413.3h1v1h-1zM227.6 386.0h1v1h-1zM262.1 364.8h1v1h-1zM215.5 440.3h1v1h-1zM289.5 357.6h1v1h-1zM219.7 424.8h1.6v1.4h-1.6zM220.6 403.6h1v1h-1zM274.5 364.4h1v1h-1zM282.7 350.7h1v1h-1zM214.5 432.7h1v1h-1zM242.4 386.1h1v1h-1zM219.0 409.8h1v1h-1zM240.1 369.7h1v1h-1zM257.7 366.7h1v1h-1zM270.2 364.2h1v1h-1zM237.8 386.9h1v1h-1zM228.0 407.6h1v1h-1zM241.2 377.5h1.6v2h-1.6zM261.4 366.4h1v1h-1zM289.1 355.2h1v1h-1zM227.4 403.8h1.6v1.4h-1.6zM292.6 358.5h1v1h-1zM252.0 376.0h1v1h-1zM214.4 440.0h1v1h-1zM218.0 441.6h1v1h-1zM253.4 372.2h1v1h-1zM222.1 406.4h1v1h-1zM266.1 364.8h1v1h-1zM219.8 419.9h1.6v2h-1.6zM293.2 350.5h1v1h-1zM220.6 419.2h2.4v1.4h-2.4zM229.7 391.5h1v1h-1zM225.5 409.1h1v1h-1zM223.6 397.0h1v1h-1zM228.2 387.5h1v1h-1zM254.2 360.7h1v1h-1zM220.2 415.2h1v1h-1zM243.7 373.9h1v1h-1zM257.4 357.4h1v1h-1zM217.7 419.1h1v1h-1zM241.5 369.1h1v1h-1zM278.9 363.5h2v1.4h-2zM250.5 377.8h1v1h-1zM224.7 392.2h1v1h-1zM238.5 372.5h1v1h-1zM266.9 368.9h1v1h-1zM222.0 419.2h2.4v2h-2.4zM223.3 391.0h2v1.4h-2zM214.5 442.1h1v1h-1zM208.1 425.2h1v1h-1zM229.9 401.7h1v1h-1zM271.7 354.3h1v1h-1zM215.0 402.4h1v1h-1zM210.6 436.5h1v1h-1zM255.8 359.0h1v1h-1zM255.7 371.9h1v1h-1zM238.7 374.6h1v1h-1zM218.4 406.8h1v1h-1zM256.3 366.0h1v1h-1zM221.5 432.0h1v1h-1zM218.7 394.3h1v1h-1z" fill="#000"/>
<path d="M201.4 403.0h1v1h-1zM207.1 383.0h1v1h-1zM203.6 429.7h1v1h-1zM207.0 395.0h1v1h-1zM216.3 393.0h1v1h-1zM201.6 432.4h1v1h-1zM206.2 399.6h1v1h-1zM279.0 339.1h1v1h-1zM296.1 340.8h1v1h-1zM219.3 369.0h1v1h-1zM220.2 377.1h1v1h-1zM274.7 344.1h2.4v1.4h-2.4zM210.0 395.0h1v1h-1zM235.5 363.0h1v1h-1zM211.0 389.9h1v1h-1zM204.9 403.7h1v1h-1zM255.6 350.5h1v1h-1zM223.3 380.1h1v1h-1zM227.5 364.4h1v1h-1zM221.4 377.6h1v1h-1zM223.8 381.6h1v1h-1zM249.5 341.8h1v1h-1zM263.0 338.9h1v1h-1zM216.2 395.6h1v1h-1zM203.4 396.3h1v1h-1zM259.5 353.9h1v1h-1zM257.1 349.5h1v1h-1zM244.1 340.7h1v1h-1zM229.9 358.0h1v1h-1zM199.8 405.9h1v1h-1zM240.6 354.8h1v1h-1zM227.6 366.0h1v1h-1zM210.1 397.3h1v1h-1zM224.8 361.3h1v1h-1zM277.6 350.8h1v1h-1zM241.2 346.2h1v1h-1zM229.3 358.7h1v1h-1zM246.1 355.3h1v1h-1zM199.5 410.5h1v1h-1zM203.6 404.6h1v1h-1zM214.9 375.3h1v1h-1zM268.2 342.0h1v1h-1zM273.9 344.0h1v1h-1zM221.9 373.8h1v1h-1zM235.5 363.0h1v1h-1zM208.9 379.7h1v1h-1zM289.7 333.6h1v1h-1zM240.6 365.2h1v1h-1zM233.1 368.0h1v1h-1zM241.4 361.2h1v1h-1zM233.0 372.7h1v1h-1zM206.3 418.7h1v1h-1zM227.1 374.0h1v1h-1zM230.4 362.6h1v1h-1zM215.3 386.7h1v1h-1zM236.3 364.0h1v1h-1zM210.6 385.5h1v1h-1zM219.3 376.8h1v1h-1zM212.7 394.7h1v1h-1zM206.9 417.3h1v1h-1zM267.3 351.9h1v1h-1zM231.4 357.7h1v1h-1zM237.5 368.1h1v1h-1zM209.3 393.3h1v1h-1zM239.3 348.6h1v1h-1zM236.8 346.3h1v1h-1zM279.9 339.9h1v1h-1zM199.5 406.0h1v1h-1zM287.6 333.4h2v2h-2zM253.5 350.6h1v1h-1zM205.7 391.9h1v1h-1zM226.8 364.3h1v1h-1zM215.8 383.6h1v1h-1zM206.1 414.7h1v1h-1zM251.6 345.0h1v1h-1zM207.1 418.2h1v1h-1zM210.6 389.8h1v1h-1zM286.7 348.1h1v1h-1zM274.4 335.8h1v1h-1zM206.0 418.6h1v1h-1zM222.8 377.1h1v1h-1zM259.0 356.4h1v1h-1zM228.8 374.0h1v1h-1zM208.1 399.5h1v1h-1zM199.3 406.8h1v1h-1zM281.0 336.1h1v1h-1zM233.4 352.1h1.6v1.4h-1.6zM212.4 388.4h1v1h-1zM263.6 346.4h1v1h-1zM200.7 424.1h1v1h-1zM243.3 362.7h1v1h-1zM293.8 335.9h1v1h-1zM240.2 348.9h1v1h-1zM260.2 345.7h1v1h-1zM201.4 417.9h1v1h-1zM286.6 346.2h1v1h-1zM225.5 363.7h1v1h-1zM206.0 388.6h1v1h-1zM229.3 367.4h1v1h-1zM256.0 339.9h1v1h-1zM273.6 347.6h1v1h-1zM281.6 333.4h1v1h-1zM295.6 329.4h1v1h-1zM279.0 343.2h1v1h-1zM211.8 395.1h1v1h-1zM292.8 339.8h1v1h-1zM202.4 427.7h1v1h-1zM253.3 348.4h1v1h-1zM212.1 384.5h1v1h-1zM289.9 344.9h1v1h-1zM204.1 419.2h1v1h-1zM262.8 349.7h1v1h-1zM271.2 337.9h1v1h-1zM224.1 368.2h1v1h-1zM243.7 351.4h1v1h-1zM241.5 344.7h1v1h-1zM273.2 336.5h1v1h-1zM218.0 373.3h1v1h-1zM202.1 420.5h1v1h-1zM247.3 351.5h1v1h-1zM279.0 348.2h1v1h-1zM199.9 429.5h1v1h-1zM272.9 345.2h1v1h-1zM255.2 357.6h1v1h-1zM268.1 349.7h1v1h-1zM249.5 360.9h1v1h-1zM262.7 347.3h1v1h-1zM248.4 351.1h1v1h-1zM205.4 399.1h1v1h-1zM230.9 354.8h1v1h-1zM239.0 363.2h1v1h-1zM282.3 341.4h1v1h-1zM268.8 343.6h1v1h-1zM207.7 388.3h1v1h-1zM289.8 347.2h1v1h-1z" fill="#000"/>
<path d="M200.0 391.5L205.4 390.9M200.0 391.5L202.1 396.1M202.1 396.1L205.4 394.8M202.1 396.1L200.0 399.1M200.0 399.1L203.5 398.3M201.4 403.9L200.1 407.5M200.1 407.5L204.5 411.2M201.7 409.6L201.1 414.5M201.1 414.5L200.4 417.8M200.4 417.8L204.1 416.7M200.5 424.3L200.2 429.2M200.5 431.0L203.9 431.6M204.2 388.9L207.9 388.9M205.4 394.8L209.0 395.6M205.4 394.8L203.5 398.3M203.5 398.3L209.3 398.3M203.5 398.3L204.8 403.7M204.8 403.7L208.0 402.1M205.7 405.7L204.5 411.2M205.7 405.7L208.3 409.7M204.5 411.2L208.3 409.7M204.5 411.2L205.6 414.5M204.5 411.2L209.4 412.6M205.6 414.5L209.4 412.6M204.1 416.7L207.1 417.9M203.8 420.3L204.4 425.2M204.4 425.2L205.0 427.3M205.0 427.3L203.9 431.6M203.9 431.6L205.6 435.2M208.5 380.8L212.3 381.1M208.5 380.8L208.6 385.5M208.5 380.8L210.7 384.3M208.6 385.5L207.9 388.9M208.6 385.5L211.1 388.7M207.9 388.9L211.1 388.7M209.3 391.3L209.0 395.6M209.0 395.6L209.3 398.3M209.3 398.3L211.4 399.6M209.3 398.3L208.0 402.1M209.3 398.3L211.9 403.1M208.0 402.1L207.7 407.4M208.0 402.1L211.0 405.4M207.7 407.4L211.0 405.4M207.7 407.4L208.3 409.7M208.3 409.7L209.4 412.6M211.1 376.5L212.3 381.1M211.1 376.5L215.1 382.4M212.3 381.1L215.1 382.4M212.3 381.1L210.7 384.3M212.3 381.1L214.3 384.1M210.7 384.3L211.1 388.7M211.1 388.7L215.4 388.8M211.7 391.9L211.4 394.6M211.9 403.1L211.0 405.4M215.2 374.4L215.8 378.7M215.8 378.7L215.1 382.4M215.1 382.4L218.7 380.2M215.1 382.4L214.3 384.1M214.3 384.1L220.1 384.9M215.4 388.8L217.9 389.1M215.3 392.8L215.6 394.5M218.0 373.2L222.5 374.5M218.0 373.2L218.5 376.5M218.5 376.5L218.7 380.2M218.7 380.2L222.3 381.6M218.7 380.2L220.1 384.9M223.3 367.3L221.5 369.4M223.3 367.3L227.2 370.4M222.5 374.5L221.8 378.2M221.8 378.2L226.1 377.5M222.3 381.6L225.6 381.7M227.0 363.1L231.0 363.2M227.0 363.1L227.4 365.8M227.4 365.8L229.0 367.6M227.2 370.4L229.1 370.7M226.2 375.0L229.4 373.1M226.1 377.5L228.7 377.5M226.1 377.5L225.6 381.7M229.8 360.5L231.0 363.2M231.0 363.2L233.0 363.8M231.0 363.2L229.0 367.6M229.0 367.6L233.5 366.9M229.0 367.6L229.1 370.7M229.1 370.7L229.4 373.1M234.3 351.4L237.4 351.5M233.0 360.7L233.0 363.8M233.0 360.7L235.9 363.2M233.0 363.8L233.5 366.9M233.5 366.9L237.5 366.0M236.0 345.4L237.9 348.8M236.0 345.4L241.1 349.9M237.9 348.8L241.1 349.9M237.9 348.8L237.4 351.5M237.4 351.5L239.7 352.2M235.9 360.0L235.9 363.2M235.9 363.2L237.5 366.0M237.5 366.0L241.5 366.1M241.2 345.1L241.1 349.9M241.1 349.9L244.5 349.7M241.1 349.9L244.0 351.6M239.7 352.2L244.0 351.6M241.2 356.9L241.5 359.4M241.5 359.4L243.5 359.7M241.1 363.5L244.7 362.9M243.8 340.9L244.0 344.4M244.0 344.4L244.5 349.7M244.5 349.7L244.0 351.6M244.0 351.6L245.3 355.3M247.6 345.3L248.7 350.1M247.2 353.3L250.8 352.2M248.5 356.2L251.3 356.4M248.5 356.2L247.7 360.3M247.7 360.3L251.1 358.9M251.3 345.5L252.3 350.1M252.3 350.1L254.6 349.5M252.3 350.1L250.8 352.2M251.3 356.4L255.7 356.5M251.3 356.4L251.1 358.9M255.9 342.0L258.4 341.2M255.9 342.0L255.1 345.4M255.1 345.4L254.6 349.5M258.3 339.1L258.4 341.2M258.4 341.2L262.8 341.6M258.4 341.2L257.9 345.9M258.4 341.2L262.0 344.8M257.9 345.9L262.0 344.8M258.4 353.0L261.4 351.3M262.8 339.2L265.1 339.1M262.0 344.8L264.9 346.3M262.0 344.8L264.9 348.4M261.4 351.3L266.0 353.3M265.1 339.1L269.0 337.9M265.6 342.4L270.2 340.6M265.6 342.4L270.0 345.2M264.9 346.3L268.8 348.0M264.9 348.4L268.8 348.0M269.0 337.9L274.0 338.0M269.0 337.9L272.3 341.5M270.0 345.2L273.5 346.0M270.0 345.2L268.8 348.0M268.8 348.0L269.4 351.7M272.2 335.4L274.0 338.0M274.0 338.0L277.0 337.3M273.5 346.0L272.0 349.8M272.0 349.8L275.8 348.2M276.5 335.4L280.7 338.1M277.0 337.3L280.7 338.1M277.0 337.3L277.2 341.7M277.2 341.7L277.8 344.7M280.7 334.8L280.7 338.1M280.7 338.1L279.9 342.4M279.9 342.4L280.5 344.7M280.5 344.7L284.1 345.4M280.5 344.7L279.7 349.1M279.7 349.1L282.8 348.4M284.4 335.7L288.0 333.3M284.4 335.7L282.8 336.9M284.0 342.5L288.5 345.1M284.1 345.4L288.5 345.1M282.8 348.4L287.2 349.1M288.0 333.3L290.9 338.9M286.7 339.1L290.9 338.9M286.7 339.1L288.6 341.6M288.6 341.6L288.5 345.1M288.5 345.1L287.2 349.1M288.5 345.1L291.1 348.9M287.2 349.1L291.1 348.9M291.4 335.1L295.7 335.6M291.4 335.1L290.9 338.9M290.9 338.9L294.8 338.4M290.9 338.9L292.2 342.3M292.2 342.3L294.1 341.4M292.2 342.3L291.3 344.2M291.3 344.2L291.1 348.9M295.7 335.6L294.8 338.4" fill="none" stroke="#000" stroke-width="0.9"/>
<polyline points="298.5,327.3 292.9,329.3 290.2,332.3 286.4,331.5 279.7,332.3 274.0,335.0 268.3,334.9 265.5,337.5 259.0,339.0 256.1,338.2 251.1,341.4 244.4,340.1 241.6,341.4 234.4,344.3 233.1,349.9 230.0,353.6 226.1,357.7 223.8,359.9 223.7,363.8 222.0,367.3 217.6,368.9 212.0,373.2 208.2,377.5 205.0,382.2 203.7,387.3 199.5,391.5 198.8,398.2 199.9,401.2 197.8,405.8 197.5,409.6 200.1,415.5 198.2,420.7 199.9,425.0 198.4,426.3 199.3,431.2 202.0,436.0" fill="none" stroke="#000" stroke-width="1.2" />
<path d="M298.5 327.3L294.9 323.1M295.2 328.5L293.2 325.6M292.5 329.7L289.0 328.3M288.8 332.0L290.7 329.2M282.1 332.0L277.6 326.6M275.2 334.4L269.5 329.9M268.1 335.1L263.0 334.3M261.9 338.3L263.6 334.7M257.5 338.6L262.5 332.6M254.4 339.3L248.0 336.9M250.1 341.2L250.2 333.8M242.9 340.8L241.5 333.6M236.0 343.7L236.7 337.4M233.3 349.0L226.4 352.3M228.1 355.6L222.7 352.5M226.0 357.8L221.8 353.3M223.7 361.7L216.6 362.4M222.9 365.3L219.5 364.0M219.0 368.4L220.6 362.4M216.3 369.9L215.6 363.6M211.6 373.8L207.3 372.0M208.8 376.8L206.7 374.1M204.5 384.2L198.7 386.5M201.4 389.6L197.6 387.2M199.2 394.4L191.5 395.7M199.8 401.1L193.7 403.0M197.7 406.6L194.8 408.1M199.8 414.9L196.2 414.5M198.4 421.2L190.9 420.6M199.6 424.3L196.7 428.5M199.1 430.1L194.8 435.0" fill="none" stroke="#000" stroke-width="1.0"/>
<polyline points="205.9,434.3 206.1,429.7 206.7,425.2 207.4,420.6 208.4,416.1 209.6,411.7 211.1,407.3 212.8,403.0 214.7,398.8 216.8,394.7 219.2,390.8 221.7,386.9 224.5,383.2 227.4,379.7 230.5,376.3 233.8,373.0 237.2,370.0 240.8,367.1 244.6,364.4 248.5,362.0 252.5,359.7 256.6,357.6 260.8,355.8 265.2,354.2 269.5,352.8 274.0,351.7 278.5,350.7 283.1,350.1 287.7,349.6 292.3,349.4 296.9,349.5" fill="none" stroke="#000" stroke-width="1.2" />
<polyline points="203.2,421.4 204.0,417.2 205.1,413.1 206.3,409.0 207.7,404.9 209.3,401.0 211.1,397.1 213.1,393.3 215.2,389.6 217.5,386.0 220.0,382.5 222.6,379.1 225.4,375.8 228.4,372.7 231.4,369.8 234.7,366.9 238.0,364.2 241.5,361.7 245.0,359.4 248.7,357.2 252.5,355.2 256.4,353.4 260.3,351.7 264.4,350.2 268.4,349.0 272.6,347.9 276.8,347.0 281.0,346.3 285.2,345.8 289.5,345.5 293.8,345.4" fill="none" stroke="#000" stroke-width="0.8" />
<polyline points="299.7,362.1 296.6,362.2 293.6,362.3 290.5,362.6 287.5,363.1 284.5,363.6 281.5,364.3 278.5,365.0 275.6,365.9 272.7,366.9 269.9,368.0 267.0,369.3 264.3,370.6 261.6,372.0 258.9,373.6 256.4,375.2 253.9,377.0 251.4,378.8 249.0,380.8 246.8,382.8 244.5,384.9 242.4,387.2 240.4,389.4 238.4,391.8 236.6,394.3 234.8,396.8 233.2,399.3 231.6,402.0 230.2,404.7 228.9,407.4 227.6,410.3 226.5,413.1 225.5,416.0 224.6,418.9 223.9,421.9 223.2,424.9 222.7,427.9 222.2,430.9 221.9,434.0 221.8,437.0 221.7,440.1 221.7,443.0" fill="none" stroke="#000" stroke-width="1.6" />
<polyline points="222.0,443.0 246.8,443.0" fill="none" stroke="#000" stroke-width="0.9" stroke-dasharray="4,3" />
<polyline points="246.8,443.0 250.7,447.0 250.7,502.0 295.0,502.0" fill="none" stroke="#000" stroke-width="1.6" />
<polyline points="251.0,505.0 295.0,505.0" fill="none" stroke="#000" stroke-width="0.9" />
<rect x="252" y="500" width="10" height="3" fill="none" stroke="#000" stroke-width="0.8"/>
<polyline points="205.4,436.0 205.4,503.5 245.2,503.5 245.2,510.0 290.0,510.0" fill="none" stroke="#000" stroke-width="0.9" stroke-dasharray="5,3" />
<polyline points="197.5,475.6 197.5,501.0" fill="none" stroke="#000" stroke-width="0.9" stroke-dasharray="8,3" />
<polyline points="197.5,507.0 241.2,507.0 241.2,516.2 272.0,516.2 272.0,507.0 295.0,507.0" fill="none" stroke="#000" stroke-width="1" stroke-dasharray="10,2,2,2" />
<polyline points="295.0,340.0 295.0,515.0" fill="none" stroke="#000" stroke-width="0.9" stroke-dasharray="6,4" />
<path d="M202 431 C194 436 190 442 190.5 450 C191 454 196 457 197 462 C198 468 192 470 190 466 C188 462 194 459 197 462" fill="none" stroke="#000" stroke-width="1.1"/>
<text x="249.0" y="537.8" font-family="Liberation Serif" font-size="13" font-weight="bold" font-style="italic" text-anchor="start" textLength="11" lengthAdjust="spacingAndGlyphs" >B</text>
<polyline points="340.1,380.3 341.6,378.2 343.1,376.2 344.7,374.2 346.3,372.3 348.0,370.4 349.7,368.5 351.4,366.7 353.2,364.9 355.1,363.2 356.9,361.5 358.9,359.9 360.8,358.3 362.8,356.7 364.8,355.2 366.9,353.8 369.0,352.4 371.1,351.0 373.3,349.7 375.5,348.5 377.7,347.3 380.0,346.1 382.3,345.1 384.6,344.0 386.9,343.1 389.2,342.1 391.6,341.3 394.0,340.5 396.4,339.7 398.9,339.0 401.3,338.4 403.8,337.8 406.2,337.3 408.7,336.9 411.2,336.5 413.7,336.2 416.2,335.9 418.7,335.7 421.3,335.5 423.8,335.4 426.3,335.4" fill="none" stroke="#000" stroke-width="1" stroke-dasharray="7,3" />
<polyline points="346.2,390.5 347.5,388.5 348.8,386.5 350.2,384.6 351.6,382.7 353.1,380.8 354.7,379.0 356.2,377.2 357.9,375.4 359.5,373.7 361.3,372.1 363.0,370.4 364.8,368.8 366.6,367.3 368.5,365.8 370.4,364.4 372.4,363.0 374.3,361.7 376.4,360.4 378.4,359.1 380.5,357.9 382.6,356.8 384.7,355.7 386.9,354.7 389.1,353.7 391.3,352.8 393.5,352.0 395.8,351.2 398.0,350.4 400.3,349.7 402.6,349.1 405.0,348.5 407.3,348.0 409.6,347.6 412.0,347.2 414.4,346.9 416.8,346.6 419.1,346.4 421.5,346.2 423.9,346.1 426.3,346.1" fill="none" stroke="#000" stroke-width="1" stroke-dasharray="7,3" />
<path d="M343.9 409.4h1v1h-1zM371.6 379.8h1v1h-1zM340.9 416.6h1v1h-1zM340.8 439.7h1v1h-1zM351.7 390.6h1v1h-1zM337.9 434.6h1v1h-1zM340.9 400.4h1v1h-1zM338.1 425.8h1v1h-1zM336.8 414.6h1v1h-1zM343.0 423.6h1v1h-1zM342.5 439.3h2v2h-2zM354.7 387.2h1v1h-1zM345.7 422.1h1v1h-1zM345.5 427.0h1v1h-1zM347.4 413.7h1v1h-1zM347.6 416.0h1.6v2h-1.6zM339.2 429.6h1v1h-1zM337.7 413.5h1v1h-1zM340.1 431.8h1v1h-1zM361.7 387.7h1v1h-1zM351.4 390.9h1v1h-1zM336.2 439.6h2.4v1.4h-2.4zM354.9 383.3h2.4v1.4h-2.4zM340.5 402.0h1v1h-1zM337.9 434.1h1v1h-1zM340.1 432.3h1v1h-1zM335.5 423.7h1v1h-1zM337.1 431.7h1v1h-1zM347.7 414.9h1v1h-1zM347.7 422.3h2.4v2h-2.4zM347.5 425.3h1v1h-1zM336.7 417.9h1v1h-1zM346.8 406.1h1v1h-1zM346.7 418.4h1v1h-1zM362.3 381.7h2v1.4h-2zM340.4 421.4h1v1h-1zM349.0 428.8h1v1h-1zM361.3 397.3h1v1h-1zM345.8 407.0h1v1h-1zM344.2 430.8h1v1h-1zM371.0 380.6h2v2h-2zM346.3 412.7h1v1h-1zM345.8 393.7h1v1h-1zM344.2 430.2h1v1h-1zM359.8 386.3h1v1h-1zM366.8 385.4h1v1h-1zM346.0 422.7h1.6v2h-1.6zM339.2 421.4h1v1h-1zM348.0 417.3h1v1h-1zM357.7 392.4h1v1h-1zM352.9 388.1h1v1h-1zM349.4 390.4h1v1h-1zM348.9 415.7h1v1h-1zM369.5 379.2h1v1h-1zM341.5 436.0h1v1h-1zM354.2 406.5h1v1h-1zM340.6 424.6h1v1h-1zM342.6 436.3h1v1h-1zM346.1 435.0h1v1h-1zM346.1 431.0h1v1h-1zM333.3 436.7h1v1h-1zM366.1 383.2h1.6v1.4h-1.6zM335.7 430.5h1v1h-1zM351.8 388.2h1v1h-1zM349.0 429.4h1v1h-1zM359.1 391.1h1.6v1.4h-1.6zM344.3 438.8h1v1h-1zM371.4 379.2h1v1h-1zM336.4 426.1h1.6v2h-1.6zM351.6 390.0h1v1h-1zM343.5 425.6h1v1h-1zM347.2 418.6h1v1h-1zM343.2 405.5h1v1h-1zM341.4 432.7h1v1h-1zM353.3 391.8h1v1h-1zM359.5 399.8h2.4v1.4h-2.4zM335.1 438.4h1v1h-1zM344.1 434.7h1v1h-1z" fill="#000"/>
<path d="M342.2 393.2h1v1h-1zM335.5 400.6h1v1h-1zM330.8 390.9h1v1h-1zM330.6 388.9h1v1h-1zM343.3 392.1h1v1h-1zM338.4 387.4h1v1h-1zM338.1 388.1h1v1h-1zM330.9 396.9h1v1h-1zM340.8 392.3h1v1h-1zM338.1 392.8h1v1h-1zM329.7 395.2h1v1h-1zM338.7 392.3h1v1h-1zM330.1 401.3h1v1h-1zM332.0 396.7h1v1h-1zM338.1 396.4h1v1h-1zM340.9 387.5h1v1h-1zM337.9 387.7h1v1h-1zM339.8 393.5h1v1h-1zM330.2 392.8h1v1h-1zM338.5 398.5h1v1h-1zM333.8 388.5h1v1h-1zM344.5 386.4h1v1h-1zM332.5 397.9h1v1h-1zM344.8 388.3h1v1h-1zM333.7 399.9h1v1h-1zM330.5 391.9h1v1h-1zM331.7 397.0h1v1h-1zM330.9 400.9h1v1h-1zM338.7 396.0h1v1h-1zM332.6 396.1h1v1h-1zM346.4 387.0h1v1h-1zM347.3 386.1h1v1h-1zM328.2 398.2h1v1h-1zM337.9 398.9h1v1h-1zM332.1 387.0h1v1h-1zM329.1 396.8h1v1h-1zM332.6 394.0h1v1h-1zM339.4 394.8h1v1h-1zM332.1 398.4h1v1h-1zM342.1 392.2h1v1h-1zM335.5 396.0h1v1h-1z" fill="#000"/>
<path d="M330.0 399.0L331.6 400.9M333.7 387.8L336.1 388.3M334.5 392.4L337.0 391.4M334.5 392.4L333.7 396.0M333.7 396.0L333.2 398.2M333.2 398.2L334.9 401.3M337.0 391.4L339.9 391.3M337.0 391.4L336.6 394.9M337.0 391.4L341.2 395.0M336.6 394.9L340.3 397.6M341.6 387.6L339.9 391.3M339.9 391.3L344.3 391.8M343.3 389.4L344.3 391.8" fill="none" stroke="#000" stroke-width="0.9"/>
<path d="M322.1 498.2h1v1h-1zM333.6 426.7h1v1h-1zM377.9 508.1h1v1h-1zM328.1 406.4h1v1h-1zM336.0 505.8h1v1h-1zM333.3 440.2h1v1h-1zM329.8 459.0h1v1h-1zM375.7 502.3h1v1h-1zM328.6 457.2h1v1h-1zM323.6 455.4h1v1h-1zM335.8 412.7h1v1h-1zM387.0 502.5h1v1h-1zM331.3 470.1h1v1h-1zM326.0 480.2h1v1h-1zM399.3 503.8h1v1h-1zM330.6 500.7h1v1h-1zM325.4 421.0h1v1h-1zM334.0 418.5h1v1h-1zM413.5 504.6h1v1h-1zM329.9 475.7h1v1h-1zM325.1 463.1h1v1h-1zM323.9 495.0h1v1h-1zM323.9 475.3h1v1h-1zM323.9 492.1h1v1h-1zM349.0 505.4h1v1h-1zM357.4 508.1h1v1h-1zM324.4 451.6h1v1h-1zM328.5 422.7h1v1h-1zM329.9 437.1h1v1h-1zM328.9 407.9h1v1h-1zM335.2 408.2h1v1h-1zM334.0 436.6h1v1h-1zM417.8 508.1h1v1h-1zM376.7 508.0h1v1h-1zM324.5 431.2h1v1h-1zM403.9 505.4h1v1h-1zM330.2 498.1h1v1h-1zM331.2 443.0h1v1h-1zM334.1 505.6h1.6v2h-1.6zM353.9 508.5h1v1h-1zM357.1 506.2h1v1h-1zM324.6 467.9h1v1h-1zM330.3 429.1h1v1h-1zM364.2 504.4h1v1h-1zM327.7 434.1h1v1h-1zM333.3 441.4h1v1h-1zM415.9 503.8h1v1h-1zM322.6 430.1h1v1h-1zM331.2 419.8h1v1h-1zM333.2 421.2h1v1h-1zM331.0 508.1h1v1h-1zM351.5 508.1h1v1h-1zM326.6 483.2h1v1h-1zM330.0 465.5h1v1h-1zM334.3 503.1h1v1h-1zM329.5 410.9h1.6v2h-1.6zM333.8 408.8h1v1h-1zM329.0 498.5h1v1h-1zM356.1 503.2h1v1h-1zM324.6 435.0h1.6v2h-1.6zM325.6 417.5h1v1h-1zM347.2 503.8h1v1h-1zM323.5 449.2h1v1h-1zM332.4 497.7h1v1h-1zM401.3 502.8h1v1h-1zM334.2 412.4h1v1h-1zM327.4 498.3h1v1h-1zM348.7 501.8h1v1h-1zM327.3 495.6h1v1h-1zM365.4 507.0h2v2h-2zM326.6 506.3h1v1h-1zM339.7 501.7h1v1h-1zM338.5 503.3h1v1h-1zM321.4 479.7h1v1h-1zM325.9 414.7h2.4v2h-2.4zM352.8 505.5h1v1h-1zM326.9 472.0h1v1h-1zM324.1 449.2h1v1h-1zM324.2 466.0h1v1h-1zM327.4 404.5h1v1h-1zM375.4 501.6h1v1h-1zM370.4 508.5h1v1h-1zM322.4 423.9h1v1h-1zM329.5 464.2h1v1h-1zM360.9 505.9h1v1h-1zM326.0 468.5h1v1h-1zM323.7 445.3h1v1h-1zM337.6 505.9h1v1h-1zM330.9 412.1h1v1h-1zM321.7 456.6h1v1h-1zM352.4 506.1h1v1h-1zM328.3 450.9h1v1h-1zM403.2 508.0h1v1h-1zM333.5 453.8h1v1h-1zM329.6 438.3h1v1h-1zM328.6 424.1h1v1h-1zM373.2 503.3h1v1h-1zM322.6 468.1h2.4v1.4h-2.4zM326.4 444.2h1v1h-1zM323.6 461.4h2.4v1.4h-2.4zM327.2 429.2h1v1h-1zM324.9 502.4h1v1h-1zM333.7 426.6h1v1h-1zM331.6 506.7h2.4v2h-2.4zM328.5 488.6h1v1h-1zM332.7 480.5h1v1h-1zM330.4 434.3h1v1h-1zM324.5 438.0h1v1h-1zM326.5 499.9h1v1h-1zM326.6 420.1h1v1h-1zM378.2 506.1h1v1h-1zM378.2 501.9h1v1h-1zM330.2 499.5h1v1h-1zM395.5 507.4h1v1h-1zM333.6 459.2h1v1h-1zM358.5 501.7h1v1h-1zM333.8 413.4h1v1h-1zM409.6 504.4h1v1h-1zM330.6 463.7h1v1h-1zM408.5 506.4h1v1h-1zM393.7 509.0h1v1h-1zM328.4 493.7h1v1h-1zM333.4 445.0h1v1h-1zM400.0 504.3h1v1h-1zM329.3 447.0h1v1h-1zM329.4 467.2h1v1h-1zM325.5 426.5h1v1h-1zM327.1 501.9h1v1h-1zM326.2 504.3h1v1h-1zM321.9 450.8h1v1h-1zM331.3 481.7h1v1h-1zM376.1 502.9h1v1h-1zM379.2 507.0h1v1h-1zM328.2 429.0h1v1h-1zM328.7 504.8h1v1h-1zM328.0 503.8h1v1h-1zM419.0 509.2h1v1h-1zM322.7 483.3h1v1h-1zM327.5 409.1h1v1h-1zM396.9 507.0h1v1h-1zM384.7 502.8h1v1h-1zM332.4 465.5h1v1h-1zM350.6 502.1h1v1h-1zM332.0 464.0h1v1h-1zM327.1 440.0h1v1h-1zM411.7 507.6h1v1h-1zM331.1 480.8h1v1h-1zM392.3 507.3h1v1h-1zM321.9 489.2h1v1h-1zM330.7 418.3h1v1h-1zM324.4 415.6h1v1h-1zM326.7 469.6h1v1h-1zM324.4 493.1h1v1h-1zM331.3 443.7h1v1h-1zM388.7 507.7h1v1h-1zM405.8 503.3h1v1h-1zM353.7 503.7h1v1h-1zM325.9 451.1h1v1h-1zM326.7 447.8h1v1h-1zM334.7 503.5h1v1h-1zM333.3 503.0h1v1h-1zM380.4 506.9h1v1h-1zM330.0 415.4h1v1h-1zM334.3 413.4h1v1h-1zM330.8 418.6h1v1h-1zM330.1 455.4h1v1h-1zM409.4 507.4h1v1h-1zM325.6 503.2h1v1h-1zM330.8 452.3h1v1h-1zM334.1 429.6h1v1h-1zM416.8 508.6h1v1h-1zM408.5 508.0h1v1h-1zM332.9 492.1h1v1h-1zM329.5 456.6h1v1h-1zM325.4 501.6h1v1h-1zM413.7 502.8h1v1h-1zM331.4 408.3h1v1h-1zM343.4 504.2h1v1h-1zM325.7 477.0h1v1h-1zM327.5 487.5h1v1h-1zM362.7 505.4h1v1h-1zM326.9 476.5h1v1h-1zM331.8 503.9h1v1h-1zM323.3 468.9h1v1h-1zM324.0 422.4h1v1h-1zM323.3 495.4h1v1h-1zM338.2 504.1h1v1h-1zM333.9 420.4h1v1h-1zM331.3 505.4h2.4v1.4h-2.4zM381.2 502.9h1v1h-1zM329.4 494.6h1v1h-1zM353.1 506.5h1v1h-1zM329.8 434.6h1v1h-1zM364.8 505.6h1v1h-1zM329.8 435.0h1v1h-1zM325.3 505.9h1v1h-1zM352.9 501.9h1v1h-1zM327.2 484.0h1v1h-1zM419.8 507.2h1v1h-1z" fill="#000"/>
<polyline points="347.8,385.6 341.0,400.0 334.5,420.0 332.8,440.0 332.8,496.0" fill="none" stroke="#000" stroke-width="1.6" />
<polyline points="327.0,405.0 326.0,500.0 340.0,503.0 420.0,503.0" fill="none" stroke="#000" stroke-width="0.8" stroke-dasharray="4,2" />
<polyline points="322.0,420.0 321.0,503.0 330.0,508.0 420.0,508.0" fill="none" stroke="#000" stroke-width="0.8" stroke-dasharray="4,2" />
<polyline points="329.0,387.1 328.4,391.9 329.4,397.3 327.3,401.6 323.9,408.1 319.4,412.1 320.7,418.6 323.5,425.4 315.7,432.6 317.1,437.1 317.2,444.6 319.2,450.8 317.2,454.4 317.5,460.6 316.0,465.6 315.8,469.5 317.5,474.1 318.5,479.5 317.9,484.3 318.9,490.8 319.8,496.1 321.9,501.5 323.6,509.0 329.5,509.6 335.1,509.9 340.8,512.9 344.4,512.8 350.5,511.5 354.4,511.0 359.8,511.9 365.0,512.0 370.1,514.1 374.3,518.1 379.9,520.2 384.2,518.8 390.1,514.8 393.8,510.7 399.3,507.6 406.2,505.3 413.5,504.7 417.4,508.6 422.6,511.6" fill="none" stroke="#000" stroke-width="1.2" />
<path d="M328.6 390.8L322.7 390.2M328.0 400.2L321.1 395.9M322.0 409.8L319.0 408.2M321.6 420.8L314.9 425.0M316.4 435.0L310.9 435.2M318.7 449.2L314.6 450.7M317.3 457.3L310.7 458.3M316.0 466.6L311.4 465.1M317.8 475.6L312.3 474.7M318.5 488.2L312.2 489.4M320.2 497.2L314.8 498.9M326.0 509.2L324.1 516.1M337.9 511.4L337.5 514.1M348.5 511.9L347.7 517.5M357.4 511.5L358.1 516.6M368.6 513.5L364.5 520.1M375.6 518.6L374.3 524.0M388.2 516.1L389.3 520.0M397.3 508.7L398.7 512.7M410.6 504.9L409.6 509.0M420.9 510.6L419.3 514.6" fill="none" stroke="#000" stroke-width="1"/>
<polyline points="426.3,362.6 423.2,362.7 420.2,362.8 417.1,363.1 414.1,363.6 411.1,364.1 408.1,364.8 405.1,365.5 402.2,366.4 399.3,367.4 396.5,368.5 393.6,369.8 390.9,371.1 388.2,372.5 385.5,374.1 383.0,375.7 380.5,377.5 378.0,379.3 375.6,381.3 373.4,383.3 371.1,385.4 369.0,387.7 367.0,389.9 365.0,392.3 363.2,394.8 361.4,397.3 359.8,399.8 358.2,402.5 356.8,405.2 355.5,407.9 354.2,410.8 353.1,413.6 352.1,416.5 351.2,419.4 350.5,422.4 349.8,425.4 349.3,428.4 348.8,431.4 348.5,434.5 348.4,437.5 348.3,440.6 348.3,442.4 363.7,442.4" fill="none" stroke="#000" stroke-width="1.6" />
<polyline points="376.5,443.4 376.5,500.2 419.5,500.2" fill="none" stroke="#000" stroke-width="1.6" />
<rect x="377" y="500" width="14" height="4" fill="none" stroke="#000" stroke-width="0.8"/>
<polyline points="421.6,330.0 421.6,515.0" fill="none" stroke="#000" stroke-width="0.9" stroke-dasharray="6,4" />
<text x="377.5" y="541.6" font-family="Liberation Serif" font-size="13" font-weight="normal" font-style="italic" text-anchor="start" textLength="10" lengthAdjust="spacingAndGlyphs" >C</text>
<polyline points="575.0,339.0 571.6,339.1 568.2,339.2 564.8,339.5 561.5,339.9 558.1,340.4 554.8,341.0 551.5,341.8 548.2,342.6 544.9,343.6 541.7,344.6 538.5,345.8 535.4,347.1 532.3,348.5 529.2,350.0 526.2,351.6 523.3,353.2 520.4,355.0 517.6,356.9 514.8,358.9 512.1,361.0 509.5,363.1 507.0,365.4 504.5,367.7 502.1,370.1 499.8,372.6 497.6,375.1 495.4,377.8 493.4,380.5 491.4,383.3 489.6,386.1 487.8,389.0 486.2,392.0 484.6,395.0 483.1,398.0 481.8,401.1 480.5,404.3 479.4,407.5 478.3,410.7 477.4,414.0 476.6,417.3 474.5,438.0" fill="none" stroke="#000" stroke-width="1" stroke-dasharray="7,3" />
<polyline points="575.0,345.6 571.7,345.7 568.4,345.8 565.1,346.1 561.9,346.5 558.6,347.0 555.4,347.7 552.2,348.4 549.0,349.3 545.8,350.2 542.7,351.3 539.6,352.5 536.6,353.8 533.6,355.2 530.7,356.6 527.8,358.2 525.0,359.9 522.2,361.7 519.5,363.6 516.9,365.6 514.3,367.7 511.8,369.8 509.4,372.1 507.1,374.4 504.8,376.8 502.7,379.3 500.6,381.9 498.6,384.5 496.7,387.2 494.9,390.0 493.2,392.8 491.6,395.7 490.2,398.6 488.8,401.6 487.5,404.6 486.3,407.7 485.2,410.8 484.3,414.0 483.4,417.2 482.7,420.4 482.0,423.6 479.5,440.0" fill="none" stroke="#000" stroke-width="1" stroke-dasharray="7,3" />
<polyline points="575.0,362.0 571.9,362.1 568.9,362.2 565.8,362.5 562.8,363.0 559.8,363.5 556.8,364.2 553.8,364.9 550.9,365.8 548.0,366.8 545.2,367.9 542.3,369.2 539.6,370.5 536.9,371.9 534.2,373.5 531.7,375.1 529.2,376.9 526.7,378.7 524.3,380.7 522.1,382.7 519.8,384.8 517.7,387.1 515.7,389.3 513.7,391.7 511.9,394.2 510.1,396.7 508.5,399.2 506.9,401.9 505.5,404.6 504.2,407.3 502.9,410.2 501.8,413.0 500.8,415.9 499.9,418.8 499.2,421.8 498.5,424.8 498.0,427.8 497.5,430.8 497.2,433.9 497.1,436.9 497.0,440.0 497.0,442.0" fill="none" stroke="#000" stroke-width="1.6" />
<path d="M513.9 485.4h1v1h-1zM494.6 467.0h1v1h-1zM513.0 470.0h1v1h-1zM495.6 455.1h1v1h-1zM558.2 495.7h1v1h-1zM496.5 475.8h2.4v2h-2.4zM491.9 464.8h1v1h-1zM496.8 518.3h1v1h-1zM478.8 497.6h1v1h-1zM504.3 452.2h2v2h-2zM553.4 519.9h1v1h-1zM505.9 473.0h2v2h-2zM470.4 495.5h1v1h-1zM481.6 471.1h1v1h-1zM476.5 501.6h1v1h-1zM509.0 510.0h1v1h-1zM526.5 499.6h1v1h-1zM482.0 507.6h1v1h-1zM504.5 479.9h1v1h-1zM486.5 450.3h1v1h-1zM475.3 512.0h1v1h-1zM524.6 449.0h1v1h-1zM484.9 478.4h1v1h-1zM523.2 503.0h1v1h-1zM517.9 447.3h1.6v2h-1.6zM515.0 495.1h1v1h-1zM565.0 510.5h1v1h-1zM490.1 512.7h1v1h-1zM490.1 484.0h1v1h-1zM523.6 501.8h1.6v2h-1.6zM535.8 499.8h1v1h-1zM521.8 487.7h2v2h-2zM490.1 458.0h1v1h-1zM509.7 464.1h1v1h-1zM509.9 453.9h1v1h-1zM464.0 506.9h1v1h-1zM516.3 483.9h1v1h-1zM509.2 455.3h1v1h-1zM525.1 489.7h1v1h-1zM527.4 503.2h1v1h-1zM477.9 505.9h1v1h-1zM508.0 489.6h1v1h-1zM482.0 513.3h1.6v2h-1.6zM491.6 453.1h1v1h-1zM563.3 518.5h1v1h-1zM496.5 513.9h1v1h-1zM549.4 517.6h1v1h-1zM547.3 512.1h1v1h-1zM511.6 519.8h1v1h-1zM521.5 484.8h1.6v1.4h-1.6zM484.7 451.9h1v1h-1zM493.5 445.8h1v1h-1zM482.0 505.4h1v1h-1zM481.2 481.5h1.6v1.4h-1.6zM482.3 468.8h1v1h-1zM494.9 478.1h1v1h-1zM516.1 510.8h1v1h-1zM484.1 447.2h1v1h-1zM503.9 461.4h1v1h-1zM512.4 480.9h1v1h-1zM487.9 469.9h1v1h-1zM498.0 501.9h1v1h-1zM490.2 460.3h1v1h-1zM561.3 504.5h1v1h-1zM472.0 514.1h1v1h-1zM519.7 463.4h1v1h-1zM471.2 520.0h2v2h-2zM497.0 487.7h1v1h-1zM509.5 503.6h1v1h-1zM503.2 489.4h1v1h-1zM483.4 451.7h1v1h-1zM514.2 488.6h1v1h-1zM485.8 519.8h1v1h-1zM496.1 486.6h1v1h-1zM545.4 510.9h1.6v1.4h-1.6zM468.1 514.6h1.6v1.4h-1.6zM507.6 505.3h1v1h-1zM486.7 470.7h1v1h-1zM506.1 444.2h1v1h-1zM520.7 497.7h1v1h-1zM485.0 505.0h1v1h-1zM472.1 498.5h1v1h-1zM530.0 502.7h1v1h-1zM494.4 477.2h1v1h-1zM502.8 459.5h2v2h-2zM505.9 448.3h1v1h-1zM546.3 503.6h1v1h-1zM532.5 518.3h1v1h-1zM508.5 462.0h1v1h-1zM501.7 483.6h1v1h-1zM513.2 494.1h1v1h-1zM525.2 490.1h1v1h-1zM488.3 491.8h1v1h-1zM564.7 499.2h1v1h-1zM514.7 493.8h1v1h-1zM522.5 487.8h1v1h-1zM490.2 483.6h1v1h-1zM494.3 503.4h1v1h-1zM553.7 514.1h1v1h-1zM511.4 488.8h1.6v2h-1.6zM478.3 516.4h1v1h-1zM459.5 508.7h1v1h-1zM526.5 507.1h1v1h-1zM554.0 498.6h1v1h-1zM500.4 456.6h1v1h-1zM494.7 460.7h1v1h-1zM510.7 478.7h1v1h-1zM513.9 515.9h1v1h-1zM515.6 498.2h1v1h-1zM469.9 505.2h1v1h-1zM483.5 476.2h2.4v1.4h-2.4zM505.0 506.5h1v1h-1zM513.4 460.4h1v1h-1zM503.4 483.4h2.4v2h-2.4zM493.2 518.3h1v1h-1zM516.6 514.7h1.6v2h-1.6zM480.6 474.4h1v1h-1zM522.1 504.1h1.6v1.4h-1.6zM494.1 499.9h1v1h-1zM486.7 452.2h1v1h-1zM486.1 472.1h1v1h-1zM479.4 511.9h1v1h-1zM501.3 507.9h1v1h-1zM518.9 475.1h1v1h-1zM542.1 504.7h1v1h-1zM519.7 461.0h1v1h-1zM492.5 446.2h2.4v1.4h-2.4zM485.0 453.1h1v1h-1zM521.4 512.2h1v1h-1zM510.9 495.9h1v1h-1zM544.1 515.2h1v1h-1zM502.3 516.1h1v1h-1zM491.3 506.5h1v1h-1zM524.7 447.7h1v1h-1zM525.0 447.7h1.6v2h-1.6zM542.7 508.9h1v1h-1zM516.1 492.4h1v1h-1zM504.1 492.6h1v1h-1zM525.2 466.7h1v1h-1zM518.3 457.3h1v1h-1zM465.3 509.9h1v1h-1zM493.6 512.2h1v1h-1zM525.1 446.0h1v1h-1zM522.4 483.8h1v1h-1zM473.3 500.6h1v1h-1zM559.5 500.4h1v1h-1zM529.9 498.6h1v1h-1zM469.9 499.7h1v1h-1zM493.4 448.6h1v1h-1zM514.3 473.2h1v1h-1zM510.5 482.7h1v1h-1zM500.0 471.9h1v1h-1zM512.1 468.3h1v1h-1zM518.6 460.1h1v1h-1zM480.4 494.1h1v1h-1zM507.1 449.3h1v1h-1zM481.6 510.9h1v1h-1zM525.9 469.7h1v1h-1zM518.4 466.7h1v1h-1zM536.6 509.3h1v1h-1zM486.8 511.6h2.4v2h-2.4zM472.9 499.6h1.6v1.4h-1.6zM491.9 474.7h1v1h-1zM523.3 485.1h1v1h-1zM555.4 509.1h1v1h-1zM507.8 473.0h1v1h-1zM569.1 517.3h1v1h-1zM554.4 518.6h2.4v2h-2.4zM487.7 496.8h2v1.4h-2zM491.2 467.1h1v1h-1zM518.8 460.3h1v1h-1zM483.1 484.4h1v1h-1zM520.2 518.5h1.6v2h-1.6zM523.2 491.7h1v1h-1zM503.0 469.8h1v1h-1zM558.6 500.0h1v1h-1zM519.4 504.7h1v1h-1zM542.1 507.4h1v1h-1zM506.7 511.1h1v1h-1zM498.8 518.0h1v1h-1zM494.1 454.4h1v1h-1zM531.9 516.6h1v1h-1zM564.5 505.2h1v1h-1zM464.2 502.2h1v1h-1zM568.2 505.0h1v1h-1zM508.1 505.6h1v1h-1zM508.6 504.3h2v1.4h-2zM536.2 495.5h1v1h-1zM518.2 463.6h2v1.4h-2zM545.7 495.3h1v1h-1zM495.0 467.6h1v1h-1zM523.8 451.7h1v1h-1zM480.1 513.7h1v1h-1zM565.1 519.4h1v1h-1zM514.7 515.4h1.6v1.4h-1.6zM484.9 450.0h1v1h-1zM465.9 514.4h1v1h-1zM482.0 450.8h1v1h-1zM491.3 513.5h1v1h-1zM519.4 461.7h1v1h-1zM503.4 464.6h1v1h-1zM542.8 505.0h1v1h-1zM482.9 505.1h1v1h-1zM484.9 498.0h2v2h-2zM516.6 483.4h2v1.4h-2zM493.2 443.7h1v1h-1zM482.7 517.5h1v1h-1zM513.1 507.3h2.4v1.4h-2.4zM493.9 488.0h1v1h-1zM497.8 466.1h1v1h-1zM485.9 481.9h1v1h-1zM532.2 517.5h1v1h-1zM486.4 447.7h1v1h-1zM509.8 485.6h1v1h-1zM536.5 517.8h2v2h-2zM502.1 461.0h1v1h-1zM466.7 513.2h1v1h-1zM526.3 451.1h1v1h-1zM519.6 495.7h1.6v2h-1.6zM513.7 482.7h1v1h-1zM480.4 471.9h1v1h-1zM524.8 450.4h1v1h-1zM534.9 512.2h1v1h-1zM491.1 501.7h2.4v2h-2.4zM485.5 514.9h1.6v2h-1.6zM534.2 500.5h1v1h-1zM502.5 513.9h1v1h-1zM535.6 508.3h1v1h-1zM553.4 507.3h1v1h-1zM512.1 479.2h1v1h-1zM525.2 501.3h1v1h-1zM508.9 518.9h1v1h-1zM516.0 484.1h1v1h-1zM541.0 512.9h2v1.4h-2zM467.2 499.8h1v1h-1zM522.0 456.0h2.4v1.4h-2.4zM501.2 445.1h1v1h-1zM475.1 510.1h1v1h-1zM542.3 509.3h1v1h-1zM488.6 443.8h1v1h-1zM533.9 503.1h1v1h-1zM521.5 476.9h1v1h-1zM545.7 518.9h1v1h-1zM508.8 463.0h1v1h-1zM491.8 496.0h1v1h-1zM559.7 504.4h1v1h-1zM459.4 501.0h1.6v2h-1.6zM539.4 513.9h1v1h-1zM503.4 463.2h1v1h-1zM565.4 519.7h1v1h-1zM528.0 507.2h1v1h-1zM480.1 517.5h1.6v1.4h-1.6zM537.7 514.8h1v1h-1zM497.7 495.7h1v1h-1zM487.6 505.1h1v1h-1zM476.8 518.4h1v1h-1zM491.6 454.4h1v1h-1zM567.4 497.8h2.4v1.4h-2.4zM525.9 473.9h1v1h-1zM487.3 455.7h1v1h-1zM499.6 450.9h1v1h-1zM501.4 445.6h1v1h-1zM486.1 513.1h2v1.4h-2zM540.9 519.9h1v1h-1zM482.1 473.0h2.4v1.4h-2.4zM522.1 460.4h1v1h-1zM521.4 507.0h1v1h-1zM519.5 502.9h1.6v1.4h-1.6zM524.7 501.1h1v1h-1zM460.9 516.4h2.4v2h-2.4zM549.6 511.0h1v1h-1zM495.3 458.6h1v1h-1zM516.7 475.1h1v1h-1zM506.1 445.9h1v1h-1zM497.1 498.6h1v1h-1zM488.9 508.7h1v1h-1zM485.3 519.3h2v1.4h-2zM487.6 443.1h1v1h-1zM527.9 502.1h1v1h-1zM497.3 494.8h1v1h-1zM489.4 484.6h1v1h-1zM536.7 506.3h1v1h-1zM538.5 499.6h1v1h-1zM481.7 448.3h1v1h-1zM528.8 504.4h1v1h-1zM516.2 510.4h1v1h-1zM500.1 478.9h1v1h-1zM490.2 499.7h1.6v2h-1.6zM526.1 452.2h2.4v2h-2.4zM510.2 515.5h1v1h-1zM474.2 498.6h1v1h-1zM522.6 453.1h1v1h-1zM510.8 513.9h1v1h-1zM499.9 511.1h1v1h-1zM460.7 504.4h1v1h-1zM505.0 505.4h1v1h-1zM541.4 500.7h1v1h-1zM491.8 454.3h2v2h-2zM484.2 454.4h1v1h-1zM515.5 504.1h1v1h-1zM504.3 447.1h1v1h-1zM493.9 463.7h1v1h-1zM509.5 504.5h1.6v1.4h-1.6zM548.1 518.8h1v1h-1zM552.5 503.7h1v1h-1zM512.8 480.3h1v1h-1zM568.4 518.6h1v1h-1zM510.2 506.3h1v1h-1zM483.9 494.6h1v1h-1zM499.0 519.8h1v1h-1zM487.5 461.6h1v1h-1zM528.5 512.9h2v2h-2zM513.4 477.5h1v1h-1zM491.2 502.7h1v1h-1zM539.1 501.4h1v1h-1zM496.5 472.1h1v1h-1zM459.9 511.1h1v1h-1zM524.3 452.4h1v1h-1zM462.5 501.9h1v1h-1zM503.2 467.3h1v1h-1zM460.0 516.7h1v1h-1zM506.2 510.6h2.4v2h-2.4zM514.2 497.6h1v1h-1zM509.3 460.9h1.6v1.4h-1.6zM527.9 503.8h1v1h-1zM541.8 499.8h1v1h-1zM526.9 449.8h2v2h-2zM492.7 443.7h1v1h-1zM517.0 451.6h1.6v1.4h-1.6zM515.5 505.9h1v1h-1zM556.6 515.4h1v1h-1zM509.6 510.4h1v1h-1zM520.4 514.0h1v1h-1zM491.4 516.3h1v1h-1zM487.8 477.6h1v1h-1zM467.0 509.5h1v1h-1zM562.5 502.5h1v1h-1zM516.6 518.4h1v1h-1zM562.4 513.6h2.4v2h-2.4zM525.6 449.4h1v1h-1zM509.2 444.1h1v1h-1zM551.9 505.3h1v1h-1zM489.5 472.2h1v1h-1zM561.4 516.0h1v1h-1zM497.8 486.0h1v1h-1zM497.7 455.6h1v1h-1zM496.5 492.3h1.6v1.4h-1.6zM480.8 461.7h1v1h-1zM517.8 468.2h1v1h-1zM559.5 509.8h1v1h-1zM524.1 456.5h1v1h-1zM500.1 447.1h1v1h-1zM487.3 471.9h2.4v1.4h-2.4zM460.5 513.0h1.6v2h-1.6zM514.8 500.4h1v1h-1zM490.7 475.8h1v1h-1zM475.3 516.1h1v1h-1zM560.4 496.1h1v1h-1zM512.3 485.9h1v1h-1zM500.7 512.2h1v1h-1zM515.1 465.5h1v1h-1zM485.6 462.7h1v1h-1zM548.5 519.4h1v1h-1zM486.6 485.1h1v1h-1zM494.1 501.7h1v1h-1zM480.9 498.0h1.6v2h-1.6zM494.4 475.3h1v1h-1zM516.0 477.5h1v1h-1zM490.8 494.7h1v1h-1zM532.8 511.2h1v1h-1zM501.1 506.5h1v1h-1zM485.4 451.8h1v1h-1zM518.1 476.6h1v1h-1zM489.9 473.9h1v1h-1zM516.4 512.6h1v1h-1zM491.9 461.5h1.6v2h-1.6zM520.2 463.9h1v1h-1zM463.3 516.4h2v2h-2zM480.9 479.9h1v1h-1zM483.7 466.0h1v1h-1zM561.8 501.9h2v2h-2zM489.4 444.7h1v1h-1zM481.2 509.6h1v1h-1zM485.7 519.5h1v1h-1zM506.3 473.0h1v1h-1zM485.0 448.4h1v1h-1zM478.1 499.1h1v1h-1zM499.4 481.7h1v1h-1zM488.3 465.5h1v1h-1zM480.1 456.3h2.4v2h-2.4zM519.4 474.9h1v1h-1zM500.0 460.1h1v1h-1zM550.7 508.6h1v1h-1zM565.5 501.9h1v1h-1zM497.0 504.2h2v1.4h-2zM486.5 486.8h1v1h-1zM511.0 513.2h1v1h-1zM483.9 494.1h1v1h-1zM553.8 518.0h2.4v2h-2.4zM505.6 458.2h1v1h-1zM518.5 474.8h1v1h-1zM562.8 496.1h1v1h-1zM486.0 459.2h1v1h-1zM459.1 518.4h1v1h-1zM463.2 517.0h1v1h-1zM528.1 516.4h1v1h-1zM523.3 460.6h1v1h-1zM482.8 484.8h2.4v1.4h-2.4zM550.2 508.1h1v1h-1zM485.4 516.9h1v1h-1zM499.5 460.6h1v1h-1zM522.4 504.8h1v1h-1zM506.4 475.7h1v1h-1zM522.3 448.6h1v1h-1zM500.4 465.5h1v1h-1zM490.5 448.6h1.6v2h-1.6zM555.6 515.1h1v1h-1zM516.1 494.7h1v1h-1zM465.8 498.9h1v1h-1zM495.5 457.9h1v1h-1zM492.6 455.8h1v1h-1zM495.2 519.6h1.6v1.4h-1.6zM505.1 512.4h1v1h-1zM509.7 496.8h1v1h-1zM481.0 448.3h2v1.4h-2zM533.3 515.1h1v1h-1zM486.7 452.6h1v1h-1zM530.1 513.1h1v1h-1zM465.8 506.1h1v1h-1zM519.7 459.6h1.6v2h-1.6zM568.7 498.2h1v1h-1zM523.8 509.7h1v1h-1zM500.3 454.2h1v1h-1zM539.1 514.1h1v1h-1zM519.1 468.1h1v1h-1zM563.0 509.6h1v1h-1zM520.6 513.9h1v1h-1zM493.6 485.8h1.6v1.4h-1.6zM514.0 510.7h1v1h-1zM552.0 498.4h1v1h-1zM509.9 451.5h1v1h-1zM508.4 456.5h1v1h-1zM463.5 516.8h1v1h-1zM473.2 517.8h1v1h-1zM498.1 494.3h1.6v1.4h-1.6zM567.0 510.6h2v2h-2zM507.3 486.2h1v1h-1zM485.7 457.5h1v1h-1zM520.8 496.3h1v1h-1zM511.7 446.5h1v1h-1zM476.7 517.2h1v1h-1zM492.1 507.2h1v1h-1zM551.2 508.7h1v1h-1zM489.8 504.6h1v1h-1zM560.2 514.8h1v1h-1zM495.3 496.9h1v1h-1zM514.0 518.9h1.6v2h-1.6zM500.7 466.9h1v1h-1zM490.8 484.9h1v1h-1zM495.2 476.1h1v1h-1zM470.9 511.0h1v1h-1zM512.3 467.2h1v1h-1zM491.4 504.4h1.6v1.4h-1.6zM566.5 508.5h1v1h-1zM486.4 483.4h1v1h-1zM484.3 479.7h1v1h-1zM511.6 509.9h1v1h-1zM489.5 473.1h1v1h-1zM524.3 513.4h1v1h-1zM500.4 456.0h2v1.4h-2zM480.6 470.0h2v2h-2zM492.9 510.1h1.6v2h-1.6zM523.4 484.1h1v1h-1zM503.5 468.9h1v1h-1zM551.5 503.9h1v1h-1zM518.4 470.1h1v1h-1zM523.5 458.2h1v1h-1zM484.8 481.2h1v1h-1zM550.6 505.4h1v1h-1zM504.9 488.6h1v1h-1zM515.5 467.1h1v1h-1zM547.9 497.4h1v1h-1zM504.2 497.6h1v1h-1zM494.4 479.0h2v2h-2zM502.2 475.7h2v2h-2zM493.0 514.2h1v1h-1zM548.7 508.3h1v1h-1zM502.9 513.7h1v1h-1zM499.6 465.5h1v1h-1zM506.3 453.9h1.6v2h-1.6zM508.7 467.6h1v1h-1zM481.3 477.7h1v1h-1zM523.4 484.8h1v1h-1zM464.1 512.3h1v1h-1zM514.6 471.5h2.4v2h-2.4zM540.7 496.3h1v1h-1zM480.9 516.1h1v1h-1zM476.3 498.2h1v1h-1zM492.3 494.5h1v1h-1zM508.6 519.6h1v1h-1zM501.8 474.2h1v1h-1zM488.9 449.9h1v1h-1zM487.7 479.0h1.6v1.4h-1.6zM488.8 479.9h1v1h-1zM488.3 500.3h1v1h-1zM506.9 449.2h1v1h-1zM529.2 514.2h1v1h-1zM481.4 477.1h1v1h-1zM522.0 495.9h1v1h-1zM557.3 500.8h2.4v2h-2.4zM503.2 501.1h1v1h-1zM520.7 493.2h2.4v1.4h-2.4zM566.3 501.3h1v1h-1zM467.7 507.6h1v1h-1zM504.7 496.9h1v1h-1zM486.3 492.0h1v1h-1zM526.6 447.5h1v1h-1zM487.1 514.3h2v2h-2zM492.3 474.4h2v1.4h-2zM519.1 493.1h2.4v1.4h-2.4zM513.9 500.5h1v1h-1zM557.5 516.4h1v1h-1zM478.5 503.7h1v1h-1zM494.9 488.5h2v1.4h-2zM525.0 446.0h1v1h-1zM529.6 508.5h1v1h-1zM557.9 508.7h1v1h-1zM488.6 464.7h1v1h-1zM487.8 518.5h1v1h-1zM498.4 507.2h1v1h-1zM503.0 502.7h1v1h-1zM484.7 514.2h2v2h-2zM516.6 462.7h1v1h-1zM521.5 476.2h2.4v1.4h-2.4zM484.7 497.9h1v1h-1zM521.3 462.2h1v1h-1zM518.3 517.9h1v1h-1zM536.4 509.2h1v1h-1zM551.9 510.4h1v1h-1zM491.6 490.0h1v1h-1zM520.1 483.7h1v1h-1zM481.1 461.4h1v1h-1zM504.1 495.7h2.4v1.4h-2.4zM554.9 513.5h1v1h-1zM484.6 458.8h1v1h-1zM519.7 499.6h1v1h-1zM517.0 471.0h2v1.4h-2zM531.6 513.8h1v1h-1zM532.7 509.5h2.4v1.4h-2.4zM481.2 494.3h1v1h-1zM558.6 511.2h1v1h-1zM549.9 515.1h1v1h-1zM499.0 465.9h1v1h-1zM482.2 514.5h1v1h-1zM502.1 470.8h1v1h-1zM533.0 497.9h1v1h-1zM521.8 480.8h1v1h-1zM470.4 514.0h1v1h-1zM494.3 509.1h1v1h-1zM550.9 500.6h1.6v2h-1.6zM510.1 477.8h1v1h-1zM489.2 501.4h1v1h-1zM522.9 507.1h1v1h-1zM484.1 515.7h1v1h-1zM526.5 517.1h1v1h-1zM513.5 488.1h1v1h-1zM503.9 518.4h1.6v2h-1.6zM516.7 515.3h1v1h-1zM555.7 503.4h1v1h-1zM460.5 497.7h1v1h-1zM460.1 496.5h1v1h-1zM466.6 506.2h1v1h-1zM485.7 452.1h1v1h-1zM491.7 514.1h1v1h-1zM500.5 444.6h1v1h-1zM505.6 460.6h1v1h-1zM508.1 461.4h1v1h-1zM512.8 493.6h1v1h-1zM470.6 510.1h1v1h-1zM492.3 472.3h1.6v1.4h-1.6zM559.3 519.9h1v1h-1zM503.7 463.8h1v1h-1zM549.5 509.5h2v1.4h-2zM487.7 491.9h1v1h-1zM480.6 485.4h1v1h-1zM540.8 515.7h1.6v1.4h-1.6zM486.2 499.5h1v1h-1zM490.6 500.0h1v1h-1zM551.9 502.2h1.6v1.4h-1.6zM479.8 486.9h1v1h-1zM509.6 516.4h1v1h-1zM538.3 508.1h1v1h-1zM505.4 446.8h1v1h-1zM521.8 496.8h2v1.4h-2zM492.4 515.3h1v1h-1zM559.1 516.2h1v1h-1zM503.5 501.9h1v1h-1zM564.9 505.3h1v1h-1zM460.0 503.2h1.6v2h-1.6zM498.5 456.0h1v1h-1zM514.5 504.7h1v1h-1zM481.3 470.1h1v1h-1zM486.8 487.6h1v1h-1zM505.5 472.7h1v1h-1zM492.9 494.3h2.4v1.4h-2.4zM543.5 508.9h1v1h-1zM523.9 448.0h1v1h-1zM486.2 515.4h1v1h-1zM481.8 491.7h1v1h-1zM512.2 468.7h1v1h-1zM537.8 519.1h2.4v1.4h-2.4zM522.5 458.0h1v1h-1zM552.1 505.7h2.4v2h-2.4zM491.2 482.9h1v1h-1zM519.6 484.7h1v1h-1zM528.0 505.6h1.6v2h-1.6zM471.9 512.0h1v1h-1zM489.7 518.6h1v1h-1zM484.1 483.9h1v1h-1zM540.1 513.0h1v1h-1zM500.8 509.7h1.6v2h-1.6zM531.7 501.5h2v2h-2zM484.5 464.1h1v1h-1zM529.8 506.1h1v1h-1zM497.0 515.8h1v1h-1zM537.4 501.0h2v2h-2zM551.4 505.6h1v1h-1z" fill="#000"/>
<path d="M472.4 442.1h1v1h-1zM457.2 462.5h1v1h-1zM459.8 465.6h1v1h-1zM473.1 499.0h1v1h-1zM454.7 463.1h1v1h-1zM469.1 454.0h1v1h-1zM455.5 444.9h1v1h-1zM464.0 469.4h1v1h-1zM472.6 451.5h1v1h-1zM462.2 496.2h1v1h-1zM458.4 459.9h1v1h-1zM458.2 442.1h1v1h-1zM464.7 470.5h1.6v1.4h-1.6zM454.2 455.6h1v1h-1zM473.8 489.3h1v1h-1zM464.4 492.8h1v1h-1zM460.8 480.0h1v1h-1zM462.4 455.3h1v1h-1zM463.4 436.8h2.4v2h-2.4zM454.6 476.8h1v1h-1zM463.7 454.0h1v1h-1zM454.9 458.6h1v1h-1zM457.7 499.4h1v1h-1zM473.3 495.2h1v1h-1zM464.6 488.6h1v1h-1zM472.2 448.1h1v1h-1zM457.2 479.9h1v1h-1zM469.9 432.6h1v1h-1zM469.2 464.0h1v1h-1zM453.7 449.7h1v1h-1zM458.8 432.6h1v1h-1zM467.9 472.8h1v1h-1zM462.7 497.5h1v1h-1zM457.6 495.6h1v1h-1zM463.5 441.5h1v1h-1zM467.0 467.2h1v1h-1zM459.5 462.2h1v1h-1zM468.6 432.0h1v1h-1zM467.7 454.2h1v1h-1zM467.4 498.8h1v1h-1zM465.0 468.5h1v1h-1zM465.1 494.0h1v1h-1zM471.5 478.2h1v1h-1zM468.6 481.9h1v1h-1zM468.7 434.1h1v1h-1zM466.3 459.6h1v1h-1zM466.2 444.1h1v1h-1zM459.0 494.1h1v1h-1zM473.2 452.9h1v1h-1zM455.0 465.2h1v1h-1zM471.0 479.9h1v1h-1zM454.5 466.6h1v1h-1zM454.2 479.2h1v1h-1zM474.0 489.0h1v1h-1zM472.8 467.1h1v1h-1zM458.8 462.8h1v1h-1zM457.6 458.4h1v1h-1zM459.5 467.9h1v1h-1zM471.4 447.3h1v1h-1zM459.2 454.4h1v1h-1zM463.4 436.1h1v1h-1zM472.7 472.6h1v1h-1zM455.4 434.3h1v1h-1zM470.7 483.6h1v1h-1zM460.1 468.9h1v1h-1zM466.5 475.3h1v1h-1zM473.9 470.4h1v1h-1zM459.2 483.3h1v1h-1zM453.1 475.2h1v1h-1zM465.6 443.3h1v1h-1zM471.4 452.7h1v1h-1zM456.7 486.0h1v1h-1zM467.6 472.9h1v1h-1zM473.1 464.9h1v1h-1zM454.5 443.0h1v1h-1zM459.1 436.8h1v1h-1zM469.6 480.4h1v1h-1zM457.9 436.8h1v1h-1zM471.4 472.9h1.6v1.4h-1.6zM460.7 492.4h1v1h-1zM459.6 458.7h1v1h-1zM460.3 446.5h1v1h-1zM458.5 469.8h1v1h-1zM467.4 465.7h1v1h-1zM455.5 478.6h1v1h-1zM459.7 482.5h1v1h-1zM470.4 465.9h1v1h-1zM465.4 474.0h1v1h-1zM466.3 468.2h1v1h-1zM471.7 476.2h1v1h-1zM463.4 477.7h1v1h-1zM468.5 436.3h1v1h-1zM469.0 454.8h1v1h-1zM459.8 484.0h1v1h-1zM458.5 434.5h1v1h-1zM460.7 496.0h1v1h-1zM465.6 482.1h1v1h-1zM468.0 445.7h1v1h-1zM466.3 498.0h1v1h-1zM469.6 440.9h1v1h-1zM460.3 455.8h1v1h-1zM458.2 438.6h1v1h-1zM462.8 487.2h1v1h-1zM462.1 445.5h1v1h-1zM471.4 434.4h1v1h-1zM468.4 447.2h1v1h-1zM457.1 498.5h1v1h-1zM454.3 477.7h1v1h-1zM470.0 449.3h1v1h-1zM463.0 493.0h1v1h-1zM456.8 450.6h1v1h-1zM455.4 489.9h1v1h-1zM463.6 468.8h1v1h-1zM457.5 490.9h1v1h-1z" fill="#000"/>
<path d="M455.4 432.8L459.7 433.6M455.4 432.8L457.0 438.2M455.4 432.8L458.6 438.7M456.2 441.5L459.9 442.6M456.2 441.5L455.1 444.5M455.1 444.5L456.9 449.8M456.9 449.8L458.8 449.4M455.7 453.4L459.6 452.0M455.7 453.4L456.9 455.5M456.9 455.5L455.5 460.2M455.4 464.3L459.4 465.2M455.4 464.3L455.3 467.1M455.3 467.1L459.7 471.6M456.7 471.6L459.7 471.6M456.5 474.7L460.3 475.6M454.7 483.0L455.0 486.8M454.7 483.0L460.3 486.8M455.0 486.8L455.3 491.5M455.3 491.5L455.8 494.0M455.8 494.0L456.0 498.3M459.7 433.6L458.6 438.7M459.9 442.6L459.5 445.0M459.5 445.0L462.3 445.5M459.5 445.0L458.8 449.4M459.6 452.0L460.4 456.8M460.4 456.8L458.6 461.6M459.4 465.2L462.6 463.8M459.4 466.9L463.2 467.3M459.7 471.6L463.5 471.6M459.3 479.2L462.6 478.8M459.6 483.8L460.3 486.8M459.8 494.0L462.9 494.0M462.8 433.6L466.6 433.7M462.8 433.6L468.3 437.5M462.9 437.5L463.4 441.7M463.4 441.7L466.5 441.6M463.4 441.7L462.3 445.5M462.3 445.5L463.1 449.3M463.1 449.3L462.9 453.6M462.7 455.6L463.9 460.7M463.9 460.7L468.2 459.9M463.9 460.7L462.6 463.8M462.6 463.8L467.0 464.6M462.6 463.8L463.2 467.3M463.2 467.3L467.8 468.3M463.5 471.6L467.0 472.1M463.6 476.2L467.3 475.2M462.6 478.8L463.8 483.4M463.9 486.5L467.2 486.1M463.9 486.5L467.8 491.9M462.7 489.7L462.9 494.0M462.9 494.0L467.4 494.8M468.3 437.5L466.5 441.6M468.3 437.5L471.0 442.2M466.5 441.6L471.0 442.2M467.3 446.0L470.5 448.3M466.2 449.6L470.5 448.3M466.2 449.6L467.4 452.3M467.4 452.3L470.8 453.1M466.9 455.6L470.8 456.3M467.0 464.6L471.8 465.3M467.8 468.3L472.0 468.4M467.3 475.2L470.5 475.7M467.3 475.2L470.1 480.4M468.0 478.6L466.4 483.1M466.4 483.1L470.4 482.6M466.4 483.1L467.2 486.1M467.2 486.1L467.8 491.9M467.4 494.8L471.3 493.4M467.4 494.8L466.7 497.5M471.1 437.0L471.0 442.2M471.0 442.2L470.2 445.6M470.5 448.3L470.8 453.1M470.8 456.3L471.3 460.4M471.8 465.3L472.0 468.4M470.5 475.7L470.1 480.4M470.4 482.6L471.9 486.8M471.9 486.8L469.9 489.9M471.3 493.4L471.5 497.5" fill="none" stroke="#000" stroke-width="0.9"/>
<polyline points="486.7,442.0 523.0,442.0 527.0,446.0 527.0,500.0 570.0,500.0" fill="none" stroke="#000" stroke-width="1.3" />
<polyline points="479.5,440.0 479.5,497.0" fill="none" stroke="#000" stroke-width="1.6" />
<polyline points="475.0,440.0 475.0,497.0" fill="none" stroke="#000" stroke-width="1" />
<rect x="475.5" y="442.0" width="3.2" height="3.2" fill="none" stroke="#000" stroke-width="0.8"/>
<rect x="475.5" y="446.6" width="3.2" height="3.2" fill="none" stroke="#000" stroke-width="0.8"/>
<rect x="475.5" y="451.2" width="3.2" height="3.2" fill="none" stroke="#000" stroke-width="0.8"/>
<rect x="475.5" y="455.8" width="3.2" height="3.2" fill="none" stroke="#000" stroke-width="0.8"/>
<rect x="475.5" y="460.4" width="3.2" height="3.2" fill="none" stroke="#000" stroke-width="0.8"/>
<rect x="475.5" y="465.0" width="3.2" height="3.2" fill="none" stroke="#000" stroke-width="0.8"/>
<rect x="475.5" y="469.6" width="3.2" height="3.2" fill="none" stroke="#000" stroke-width="0.8"/>
<rect x="475.5" y="474.2" width="3.2" height="3.2" fill="none" stroke="#000" stroke-width="0.8"/>
<rect x="475.5" y="478.8" width="3.2" height="3.2" fill="none" stroke="#000" stroke-width="0.8"/>
<rect x="475.5" y="483.4" width="3.2" height="3.2" fill="none" stroke="#000" stroke-width="0.8"/>
<rect x="475.5" y="488.0" width="3.2" height="3.2" fill="none" stroke="#000" stroke-width="0.8"/>
<rect x="475.5" y="492.6" width="3.2" height="3.2" fill="none" stroke="#000" stroke-width="0.8"/>
<rect x="486.9" y="451.0" width="4" height="3.2" fill="none" stroke="#000" stroke-width="1"/>
<rect x="486.9" y="455.2" width="4" height="3.2" fill="none" stroke="#000" stroke-width="1"/>
<rect x="486.9" y="459.4" width="4" height="3.2" fill="none" stroke="#000" stroke-width="1"/>
<rect x="486.9" y="463.6" width="4" height="3.2" fill="none" stroke="#000" stroke-width="1"/>
<rect x="486.9" y="467.8" width="4" height="3.2" fill="none" stroke="#000" stroke-width="1"/>
<rect x="486.9" y="472.0" width="4" height="3.2" fill="none" stroke="#000" stroke-width="1"/>
<rect x="486.9" y="476.2" width="4" height="3.2" fill="none" stroke="#000" stroke-width="1"/>
<rect x="486.9" y="480.4" width="4" height="3.2" fill="none" stroke="#000" stroke-width="1"/>
<rect x="486.9" y="484.6" width="4" height="3.2" fill="none" stroke="#000" stroke-width="1"/>
<rect x="486.9" y="488.8" width="4" height="3.2" fill="none" stroke="#000" stroke-width="1"/>
<rect x="511.2" y="451" width="7.2" height="41.3" fill="none" stroke="#000" stroke-width="1.1"/>
<polyline points="511.2,463.0 518.4,463.0" fill="none" stroke="#000" stroke-width="0.9" />
<polyline points="511.2,466.3 518.4,466.3" fill="none" stroke="#000" stroke-width="0.9" />
<polyline points="511.2,469.6 518.4,469.6" fill="none" stroke="#000" stroke-width="0.9" />
<polyline points="511.2,472.9 518.4,472.9" fill="none" stroke="#000" stroke-width="0.9" />
<polyline points="511.2,476.2 518.4,476.2" fill="none" stroke="#000" stroke-width="0.9" />
<polyline points="511.2,479.5 518.4,479.5" fill="none" stroke="#000" stroke-width="0.9" />
<polyline points="511.2,482.8 518.4,482.8" fill="none" stroke="#000" stroke-width="0.9" />
<polyline points="511.2,486.1 518.4,486.1" fill="none" stroke="#000" stroke-width="0.9" />
<polyline points="511.2,489.4 518.4,489.4" fill="none" stroke="#000" stroke-width="0.9" />
<polyline points="514.8,463.0 514.8,492.3" fill="none" stroke="#000" stroke-width="0.9" />
<path d="M511.2 451 L518.4 451 L511.2 463 Z M514 463 L518.4 456 L518.4 463 Z" fill="#000"/>
<polyline points="480.0,495.0 527.0,495.0" fill="none" stroke="#000" stroke-width="0.8" stroke-dasharray="3,2" />
<polyline points="455.9,500.4 460.4,502.9 463.9,504.8 470.6,505.9 475.2,504.8 479.5,506.9 481.8,508.2 487.0,508.5 490.2,509.1 494.2,508.0 498.8,508.6 504.5,510.0 507.5,512.7 513.4,512.3 515.9,514.2 520.3,517.5 522.9,522.0 527.5,520.6 530.0,520.5 534.6,518.4 538.8,519.4 544.5,516.6 548.5,515.2 552.7,514.7 555.1,511.7 560.0,508.3 565.3,507.3 568.0,504.6" fill="none" stroke="#000" stroke-width="1.2" />
<polyline points="570.3,490.0 570.3,525.0" fill="none" stroke="#000" stroke-width="1" />
<text x="469.5" y="420.2" font-family="Liberation Serif" font-size="7.5" font-weight="bold" font-style="normal" text-anchor="start" textLength="48" lengthAdjust="spacingAndGlyphs" transform="rotate(-90 469.5 420.2)" >Rock Packing</text>
<polyline points="463.4,422.4 473.4,438.0" fill="none" stroke="#000" stroke-width="0.9" />
<polyline points="485.6,431.4 479.0,440.0" fill="none" stroke="#000" stroke-width="0.9" />
<text x="519.5" y="542.4" font-family="Liberation Serif" font-size="13" font-weight="bold" font-style="italic" text-anchor="start" textLength="11" lengthAdjust="spacingAndGlyphs" >E</text>
</svg>
</body></html>
